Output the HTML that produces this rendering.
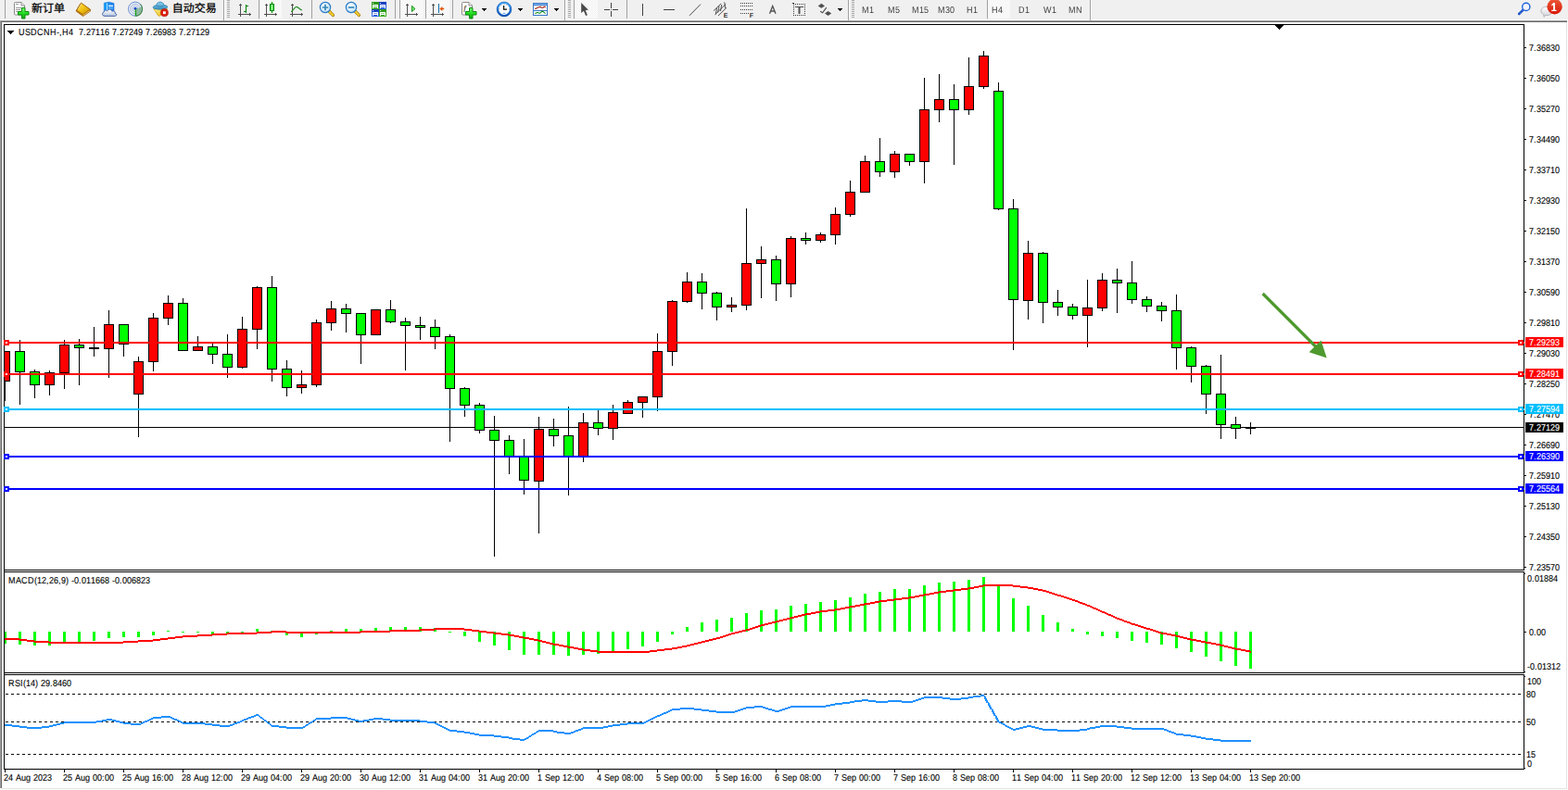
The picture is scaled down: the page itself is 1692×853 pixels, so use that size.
<!DOCTYPE html>
<html><head><meta charset="utf-8"><title>USDCNH H4</title>
<style>
html,body{margin:0;padding:0;background:#fff;overflow:hidden}
body{width:1692px;height:853px;font-family:"Liberation Sans",sans-serif}
svg{display:block;position:absolute;left:0;top:0}
text{font-family:"Liberation Sans",sans-serif;white-space:pre;text-rendering:geometricPrecision}
</style></head><body>
<svg width="1692" height="853" viewBox="0 0 1692 853" shape-rendering="crispEdges">
<rect x="0" y="0" width="1692" height="853" fill="#fff"/>
<rect x="0" y="0" width="1692" height="21" fill="#f0f0f0"/>
<rect x="0" y="21" width="1692" height="1" fill="#fbfbfb"/>
<rect x="0" y="22" width="1691" height="1" fill="#a0a0a0"/>
<rect x="1" y="23" width="1690" height="1" fill="#696969"/>
<rect x="0" y="23" width="1" height="828" fill="#a0a0a0"/>
<rect x="1" y="24" width="1" height="827" fill="#696969"/>
<rect x="1690" y="24" width="1" height="828" fill="#e3e3e3"/>
<rect x="2" y="851" width="1689" height="1" fill="#e3e3e3"/>
<defs>
<pattern id="chk" width="2" height="2" patternUnits="userSpaceOnUse"><rect width="2" height="2" fill="#f0f0f0"/><rect width="1" height="1" fill="#fff"/><rect x="1" y="1" width="1" height="1" fill="#fff"/></pattern>
<linearGradient id="gplus" x1="0" y1="0" x2="0" y2="1"><stop offset="0" stop-color="#7dff7d"/><stop offset="0.5" stop-color="#22dd22"/><stop offset="1" stop-color="#0fa80f"/></linearGradient>
<linearGradient id="gold" x1="0" y1="0" x2="1" y2="1"><stop offset="0" stop-color="#ffe860"/><stop offset="0.5" stop-color="#f0c010"/><stop offset="1" stop-color="#c88808"/></linearGradient>
<linearGradient id="bluebox" x1="0" y1="0" x2="1" y2="0"><stop offset="0" stop-color="#10a0ff"/><stop offset="1" stop-color="#2078e8"/></linearGradient>
<linearGradient id="cloud" x1="0" y1="0" x2="0" y2="1"><stop offset="0" stop-color="#ffffff"/><stop offset="1" stop-color="#b8c8e0"/></linearGradient>
<linearGradient id="hat" x1="0" y1="0" x2="0" y2="1"><stop offset="0" stop-color="#8ad0f0"/><stop offset="1" stop-color="#3890c0"/></linearGradient>
<linearGradient id="face" x1="0" y1="0" x2="1" y2="1"><stop offset="0" stop-color="#fff080"/><stop offset="1" stop-color="#e0b010"/></linearGradient>
<linearGradient id="gcandle" x1="0" y1="0" x2="1" y2="0"><stop offset="0" stop-color="#30d830"/><stop offset="0.5" stop-color="#a0ffa0"/><stop offset="1" stop-color="#30d830"/></linearGradient>
<radialGradient id="lens" cx="0.4" cy="0.35" r="0.7"><stop offset="0" stop-color="#ffffff"/><stop offset="1" stop-color="#b8e0f8"/></radialGradient>
<linearGradient id="handle" x1="0" y1="0" x2="1" y2="0"><stop offset="0" stop-color="#fff0a0"/><stop offset="1" stop-color="#d8a010"/></linearGradient>
<linearGradient id="clk" x1="0" y1="0" x2="0" y2="1"><stop offset="0" stop-color="#48a8f8"/><stop offset="1" stop-color="#0850b8"/></linearGradient>
<linearGradient id="badge" x1="0" y1="0" x2="0" y2="1"><stop offset="0" stop-color="#ec5a3a"/><stop offset="1" stop-color="#d81808"/></linearGradient>
<linearGradient id="bubble" x1="0" y1="0" x2="0" y2="1"><stop offset="0" stop-color="#ffffff"/><stop offset="1" stop-color="#d0d0dc"/></linearGradient>
<linearGradient id="tgreen" x1="0" y1="0" x2="0" y2="1"><stop offset="0" stop-color="#289018"/><stop offset="1" stop-color="#48b828"/></linearGradient>
<linearGradient id="tblue" x1="0" y1="0" x2="0" y2="1"><stop offset="0" stop-color="#1038b8"/><stop offset="1" stop-color="#3870f0"/></linearGradient>
<filter id="nf" x="0" y="0" width="100%" height="100%" filterUnits="userSpaceOnUse" color-interpolation-filters="sRGB"><feOffset dx="0" dy="0"/></filter>
</defs>
<rect x="5" y="0" width="1" height="20" fill="#a0a0a0"/>
<g shape-rendering="geometricPrecision"><path d="M15.5 3.5q0-1 1-1h6.5l3.5 3.5v9q0 1-1 1h-9q-1 0-1-1z" fill="#fff" stroke="#8a8a8a" stroke-width="1"/><path d="M23 2.5v3.5h3.5" fill="#f4f4f4" stroke="#8a8a8a" stroke-width="1"/></g>
<rect x="17" y="4" width="3" height="1" fill="#9a9a9a"/>
<rect x="17" y="8" width="6" height="1" fill="#9a9a9a"/>
<rect x="17" y="10" width="5" height="1" fill="#9a9a9a"/>
<rect x="17" y="12" width="3" height="1" fill="#9a9a9a"/>
<g shape-rendering="geometricPrecision"><path d="M23.5 8.5h3.5v4h4v3.5h-4v4h-3.5v-4h-4v-3.5h4z" fill="url(#gplus)" stroke="#0c8c0c" stroke-width="1" stroke-linejoin="round"/></g>
<text x="34 46 58" y="13.2" font-size="12" fill="#000" stroke="#000" stroke-width="0.26" style="font-family:'Liberation Sans','Noto Sans CJK SC',sans-serif" shape-rendering="geometricPrecision">新订单</text>
<g shape-rendering="geometricPrecision"><path d="M87.7 3.2L97.6 10.3L97.3 12.2L89.6 17.5L82.4 12.2L82.4 11.2Z" fill="#b87810" stroke="#a06008" stroke-width="0.8" stroke-linejoin="round"/><path d="M87.8 3.6L97 10.2L89.5 15.6L82.8 11Z" fill="url(#gold)" stroke="#b07008" stroke-width="0.7" stroke-linejoin="round"/><path d="M89.6 16.6L97 11.6" stroke="#f8e8a0" stroke-width="0.7"/><path d="M83.2 10.8L87.8 4" stroke="#fff4b0" stroke-width="0.8"/><path d="M87.2 3.4Q85.4 6 82.6 11.4" stroke="#a06008" stroke-width="0.9" fill="none"/></g>
<g shape-rendering="geometricPrecision"><path d="M112.3 3.2L117.5 2.2L123 3.5V12H112.3z" fill="url(#bluebox)" stroke="#1878e0" stroke-width="0.6"/><path d="M115.5 3.5V12" stroke="#c8ecff" stroke-width="0.9"/><rect x="117" y="5.6" width="5" height="1.6" fill="#d8f0ff"/><rect x="117" y="8.3" width="5" height="1.2" fill="#70c0ff"/><path d="M113 17.3c-3 0-3.3-3.6-0.9-4.2c-0.2-2 2.4-2.7 3.6-1.3c1-2.4 4.6-2.2 5.1 0.3c2-1 4 0.6 3.3 2.3c2.3 0.3 2.1 2.9-0.2 2.9z" fill="url(#cloud)" stroke="#4062a8" stroke-width="1"/></g>
<g shape-rendering="geometricPrecision" fill="none"><path d="M146 9.7L153.6 7.2A8 8 0 0 1 146.5 17.7Z" fill="#58a848" opacity="0.55" stroke="none"/><circle cx="146" cy="9.7" r="7.5" stroke="#3868d0" stroke-width="1" opacity="0.75"/><circle cx="146" cy="9.7" r="5.2" stroke="#5080d8" stroke-width="0.9" opacity="0.6"/><circle cx="146" cy="9.7" r="3" stroke="#6890e0" stroke-width="0.9" opacity="0.6"/><path d="M151.3 4.4A7.5 7.5 0 0 1 146.5 17.2" stroke="#408838" stroke-width="1.1" opacity="0.8"/><circle cx="146" cy="9.3" r="1.5" fill="#1848c8" stroke="none"/><path d="M146.4 10V17.4" stroke="#18a018" stroke-width="1.3"/></g>
<g shape-rendering="geometricPrecision"><path d="M165.8 9.6L180.6 9.6L172.3 17.6Q170.6 17.2 170 16Z" fill="url(#face)" stroke="#c89808" stroke-width="0.6"/><path d="M165.3 8.6c-0.6-1.8 1.6-2.8 3.3-2.9c0.6-2.6 2.6-3.6 4.3-3.6s3.4 1 4.1 3.4c2-0.1 4.3 0.9 3.6 2.6c-1.6 2.4-13.1 2.9-15.3 0.5z" fill="url(#hat)" stroke="#2878a8" stroke-width="0.7"/><path d="M168.8 6.2c2 1.2 6 1.2 8 0" stroke="#2070a0" stroke-width="0.6" fill="none"/><circle cx="177.4" cy="13.7" r="4.1" fill="#d82010" stroke="#b01808" stroke-width="0.5"/><rect x="176" y="12.3" width="2.8" height="2.8" fill="#fff"/></g>
<text x="185.8 197.8 209.8 221.8" y="13.2" font-size="12" fill="#000" stroke="#000" stroke-width="0.26" style="font-family:'Liberation Sans','Noto Sans CJK SC',sans-serif" shape-rendering="geometricPrecision">自动交易</text>
<rect x="241" y="0" width="1" height="22" fill="#a0a0a0"/>
<rect x="242" y="0" width="1" height="22" fill="#fff"/>
<rect x="245" y="0" width="3" height="1" fill="#a8a8a8"/>
<rect x="245" y="2" width="3" height="1" fill="#a8a8a8"/>
<rect x="245" y="4" width="3" height="1" fill="#a8a8a8"/>
<rect x="245" y="6" width="3" height="1" fill="#a8a8a8"/>
<rect x="245" y="8" width="3" height="1" fill="#a8a8a8"/>
<rect x="245" y="10" width="3" height="1" fill="#a8a8a8"/>
<rect x="245" y="12" width="3" height="1" fill="#a8a8a8"/>
<rect x="245" y="14" width="3" height="1" fill="#a8a8a8"/>
<rect x="245" y="16" width="3" height="1" fill="#a8a8a8"/>
<rect x="245" y="18" width="3" height="1" fill="#a8a8a8"/>
<rect x="259" y="4" width="1" height="14" fill="#505050"/>
<rect x="257" y="15" width="14" height="1" fill="#505050"/>
<rect x="258" y="5" width="3" height="1" fill="#505050"/>
<rect x="269" y="14" width="1" height="3" fill="#505050"/>
<rect x="265" y="5" width="1" height="9" fill="#008000"/><rect x="265" y="6" width="3" height="1" fill="#008000"/><rect x="263" y="12" width="3" height="1" fill="#008000"/>
<rect x="279" y="0" width="1" height="20" fill="#a0a0a0"/>
<rect x="281" y="0" width="23" height="20" fill="url(#chk)"/>
<rect x="287" y="4" width="1" height="14" fill="#505050"/>
<rect x="285" y="15" width="14" height="1" fill="#505050"/>
<rect x="286" y="5" width="3" height="1" fill="#505050"/>
<rect x="297" y="14" width="1" height="3" fill="#505050"/>
<rect x="293" y="2" width="1" height="12" fill="#008000"/><rect x="291" y="4" width="5" height="8" fill="#008800"/><rect x="292" y="5" width="3" height="6" fill="url(#gcandle)"/>
<rect x="315" y="4" width="1" height="14" fill="#505050"/>
<rect x="313" y="15" width="14" height="1" fill="#505050"/>
<rect x="314" y="5" width="3" height="1" fill="#505050"/>
<rect x="325" y="14" width="1" height="3" fill="#505050"/>
<path d="M314.2 12.8C316.5 11.5 318 7.2 320 7.4S323.5 10.5 325.8 10.9" fill="none" stroke="#289028" stroke-width="1.2" shape-rendering="geometricPrecision"/>
<rect x="336" y="0" width="1" height="20" fill="#a0a0a0"/>
<g shape-rendering="geometricPrecision"><path d="M354.8 11.8L359.4 16.4" stroke="#a87808" stroke-width="3.4" stroke-linecap="round"/><path d="M355 12L359.2 16.2" stroke="#f0d030" stroke-width="2" stroke-linecap="round"/><circle cx="351" cy="8" r="5.6" fill="url(#lens)" stroke="#2878c8" stroke-width="1.2"/><path d="M347.8 8H354.2M351 4.8V11.2" stroke="#3888b8" stroke-width="1.7"/></g>
<g shape-rendering="geometricPrecision"><path d="M382.8 11.8L387.4 16.4" stroke="#a87808" stroke-width="3.4" stroke-linecap="round"/><path d="M383 12L387.2 16.2" stroke="#f0d030" stroke-width="2" stroke-linecap="round"/><circle cx="379" cy="8" r="5.6" fill="url(#lens)" stroke="#2878c8" stroke-width="1.2"/><path d="M375.8 8H382.2" stroke="#3888b8" stroke-width="1.7"/></g>
<rect x="401" y="2" width="8" height="8" fill="url(#tgreen)"/><rect x="402" y="3" width="1" height="1" fill="#fff" opacity="0.8"/><rect x="402" y="5" width="6" height="4" fill="#fff"/><rect x="403" y="6" width="4" height="1" fill="url(#tgreen)" opacity="0.55"/><rect x="403" y="8" width="4" height="1" fill="url(#tgreen)"/>
<rect x="409" y="2" width="8" height="8" fill="url(#tblue)"/><rect x="410" y="3" width="1" height="1" fill="#fff" opacity="0.8"/><rect x="410" y="5" width="6" height="4" fill="#fff"/><rect x="411" y="6" width="4" height="1" fill="url(#tblue)" opacity="0.55"/><rect x="411" y="8" width="4" height="1" fill="url(#tblue)"/>
<rect x="401" y="10" width="8" height="8" fill="url(#tblue)"/><rect x="402" y="11" width="1" height="1" fill="#fff" opacity="0.8"/><rect x="402" y="13" width="6" height="4" fill="#fff"/><rect x="403" y="14" width="4" height="1" fill="url(#tblue)" opacity="0.55"/><rect x="403" y="16" width="4" height="1" fill="url(#tblue)"/>
<rect x="409" y="10" width="8" height="8" fill="url(#tgreen)"/><rect x="410" y="11" width="1" height="1" fill="#fff" opacity="0.8"/><rect x="410" y="13" width="6" height="4" fill="#fff"/><rect x="411" y="14" width="4" height="1" fill="url(#tgreen)" opacity="0.55"/><rect x="411" y="16" width="4" height="1" fill="url(#tgreen)"/>
<rect x="426" y="0" width="1" height="20" fill="#a0a0a0"/>
<rect x="431" y="0" width="1" height="20" fill="#a0a0a0"/>
<rect x="432" y="0" width="25" height="20" fill="url(#chk)"/>
<rect x="439" y="4" width="1" height="14" fill="#505050"/>
<rect x="437" y="15" width="14" height="1" fill="#505050"/>
<rect x="438" y="5" width="3" height="1" fill="#505050"/>
<rect x="449" y="14" width="1" height="3" fill="#505050"/>
<path d="M444.4 6.3L448 9.5L444.4 12.6Z" fill="#70e870" stroke="#108810" stroke-width="0.9" shape-rendering="geometricPrecision"/>
<rect x="459" y="0" width="1" height="20" fill="#a0a0a0"/>
<rect x="460" y="0" width="25" height="20" fill="url(#chk)"/>
<rect x="467" y="4" width="1" height="14" fill="#505050"/>
<rect x="465" y="15" width="14" height="1" fill="#505050"/>
<rect x="466" y="5" width="3" height="1" fill="#505050"/>
<rect x="477" y="14" width="1" height="3" fill="#505050"/>
<rect x="473" y="4" width="1" height="10" fill="#1870a8"/>
<path d="M474.6 9.5L477.2 7.4V8.9H479V10.1H477.2V11.6Z" fill="#e05000" stroke="#e05000" stroke-width="0.4" shape-rendering="geometricPrecision"/>
<rect x="488" y="0" width="1" height="20" fill="#a0a0a0"/>
<g shape-rendering="geometricPrecision"><path d="M498.5 3.5q0-1 1-1h6.5l3.5 3.5v9q0 1-1 1h-9q-1 0-1-1z" fill="#fff" stroke="#8a8a8a" stroke-width="1"/><path d="M506 2.5v3.5h3.5" fill="#f4f4f4" stroke="#8a8a8a" stroke-width="1"/></g>
<text x="500" y="12.5" font-size="10" font-style="italic" fill="#605030" shape-rendering="geometricPrecision">f</text>
<g shape-rendering="geometricPrecision"><path d="M506.5 8.5h3.5v4h4v3.5h-4v4h-3.5v-4h-4v-3.5h4z" fill="url(#gplus)" stroke="#0c8c0c" stroke-width="1" stroke-linejoin="round"/></g>
<rect x="520" y="9" width="5" height="1" fill="#000"/>
<rect x="521" y="10" width="3" height="1" fill="#000"/>
<rect x="522" y="11" width="1" height="1" fill="#000"/>
<g shape-rendering="geometricPrecision"><circle cx="544" cy="10" r="7" fill="#fff" stroke="url(#clk)" stroke-width="2.2"/><circle cx="544" cy="10" r="7.9" fill="none" stroke="#0848a0" stroke-width="0.5"/><path d="M543.6 6V10.2H547" stroke="#101010" stroke-width="1.3" fill="none"/><g fill="#909090"><rect x="543.5" y="4.2" width="1" height="1"/><rect x="549" y="9.5" width="1" height="1"/><rect x="538.2" y="9.5" width="1" height="1"/><rect x="546.5" y="5" width="0.8" height="0.8"/><rect x="540.3" y="5" width="0.8" height="0.8"/><rect x="540" y="13.6" width="0.8" height="0.8"/><rect x="547" y="13.6" width="0.8" height="0.8"/></g><rect x="542.5" y="13.8" width="3" height="1" fill="#50a0f0"/></g>
<rect x="559" y="9" width="5" height="1" fill="#000"/>
<rect x="560" y="10" width="3" height="1" fill="#000"/>
<rect x="561" y="11" width="1" height="1" fill="#000"/>
<rect x="575" y="3" width="16" height="14" fill="#3878c8"/><rect x="576" y="4" width="14" height="1" fill="#88b8f0"/><rect x="576" y="6" width="14" height="5" fill="#fff"/><rect x="576" y="12" width="14" height="4" fill="#fff"/>
<path d="M577 9.3H578.8L580 8H581.5L582.3 7.3H583.3L584 8.3H586L587 7.4H588.8" fill="none" stroke="#a01808" stroke-width="1.1" shape-rendering="geometricPrecision"/>
<path d="M577.2 14.3H578.5L579.5 13.5H580.5L581.5 14.3H582.8L584.5 12.4H585.8L588.6 14.6" fill="none" stroke="#109018" stroke-width="1.1" shape-rendering="geometricPrecision"/>
<rect x="598" y="9" width="5" height="1" fill="#000"/>
<rect x="599" y="10" width="3" height="1" fill="#000"/>
<rect x="600" y="11" width="1" height="1" fill="#000"/>
<rect x="609" y="0" width="1" height="22" fill="#a0a0a0"/>
<rect x="610" y="0" width="1" height="22" fill="#fff"/>
<rect x="613" y="0" width="3" height="1" fill="#a8a8a8"/>
<rect x="613" y="2" width="3" height="1" fill="#a8a8a8"/>
<rect x="613" y="4" width="3" height="1" fill="#a8a8a8"/>
<rect x="613" y="6" width="3" height="1" fill="#a8a8a8"/>
<rect x="613" y="8" width="3" height="1" fill="#a8a8a8"/>
<rect x="613" y="10" width="3" height="1" fill="#a8a8a8"/>
<rect x="613" y="12" width="3" height="1" fill="#a8a8a8"/>
<rect x="613" y="14" width="3" height="1" fill="#a8a8a8"/>
<rect x="613" y="16" width="3" height="1" fill="#a8a8a8"/>
<rect x="613" y="18" width="3" height="1" fill="#a8a8a8"/>
<rect x="619" y="0" width="1" height="20" fill="#a0a0a0"/>
<rect x="620" y="0" width="25" height="20" fill="url(#chk)"/>
<path d="M627.2 3V14L629.9 11.8L632.1 17L633.9 16.2L631.7 11.1L634.9 10.7Z" fill="#4a4a4a" shape-rendering="geometricPrecision"/>
<rect x="652" y="10" width="6" height="1" fill="#404040"/><rect x="661" y="10" width="6" height="1" fill="#404040"/><rect x="659" y="3" width="1" height="6" fill="#404040"/><rect x="659" y="12" width="1" height="6" fill="#404040"/><rect x="659" y="10" width="1" height="1" fill="#707070"/>
<rect x="676" y="0" width="1" height="20" fill="#a0a0a0"/>
<rect x="693" y="4" width="1" height="13" fill="#404040"/>
<rect x="716" y="10" width="12" height="1" fill="#404040"/>
<path d="M744 16.8L756 4.6" stroke="#404040" stroke-width="0.95" shape-rendering="geometricPrecision"/>
<g shape-rendering="geometricPrecision" stroke="#404040" stroke-width="0.9" fill="none"><path d="M770 11.7L778.2 3.8M771.5 15.8L783.3 4.4M775 17L784 8.3"/><path d="M773.5 8.6L772.3 15.5M776 6.5L774.6 13.6M778.8 5L777.5 12M781.7 2.4L782.8 9"/></g>
<text x="780.8" y="18.6" font-size="7" font-weight="bold" fill="#303030" shape-rendering="geometricPrecision">E</text>
<rect x="799" y="3" width="1" height="1" fill="#404040"/>
<rect x="801" y="3" width="1" height="1" fill="#404040"/>
<rect x="803" y="3" width="1" height="1" fill="#404040"/>
<rect x="805" y="3" width="1" height="1" fill="#404040"/>
<rect x="807" y="3" width="1" height="1" fill="#404040"/>
<rect x="809" y="3" width="1" height="1" fill="#404040"/>
<rect x="811" y="3" width="1" height="1" fill="#404040"/>
<rect x="799" y="6" width="1" height="1" fill="#404040"/>
<rect x="801" y="6" width="1" height="1" fill="#404040"/>
<rect x="803" y="6" width="1" height="1" fill="#404040"/>
<rect x="805" y="6" width="1" height="1" fill="#404040"/>
<rect x="807" y="6" width="1" height="1" fill="#404040"/>
<rect x="809" y="6" width="1" height="1" fill="#404040"/>
<rect x="811" y="6" width="1" height="1" fill="#404040"/>
<rect x="799" y="10" width="1" height="1" fill="#404040"/>
<rect x="801" y="10" width="1" height="1" fill="#404040"/>
<rect x="803" y="10" width="1" height="1" fill="#404040"/>
<rect x="805" y="10" width="1" height="1" fill="#404040"/>
<rect x="807" y="10" width="1" height="1" fill="#404040"/>
<rect x="809" y="10" width="1" height="1" fill="#404040"/>
<rect x="811" y="10" width="1" height="1" fill="#404040"/>
<rect x="799" y="14" width="1" height="1" fill="#404040"/>
<rect x="801" y="14" width="1" height="1" fill="#404040"/>
<rect x="803" y="14" width="1" height="1" fill="#404040"/>
<rect x="805" y="14" width="1" height="1" fill="#404040"/>
<rect x="807" y="14" width="1" height="1" fill="#404040"/>
<text x="808.8" y="18.6" font-size="7" font-weight="bold" fill="#303030" shape-rendering="geometricPrecision">F</text>
<path d="M830.5 14.8L833.75 6.6L837 14.8M831.8 12H835.7" fill="none" stroke="#505050" stroke-width="1.35" stroke-linejoin="miter" shape-rendering="geometricPrecision"/>
<rect x="856" y="4" width="1" height="1" fill="#404040"/><rect x="856" y="16" width="1" height="1" fill="#404040"/>
<rect x="858" y="4" width="1" height="1" fill="#404040"/><rect x="858" y="16" width="1" height="1" fill="#404040"/>
<rect x="860" y="4" width="1" height="1" fill="#404040"/><rect x="860" y="16" width="1" height="1" fill="#404040"/>
<rect x="862" y="4" width="1" height="1" fill="#404040"/><rect x="862" y="16" width="1" height="1" fill="#404040"/>
<rect x="864" y="4" width="1" height="1" fill="#404040"/><rect x="864" y="16" width="1" height="1" fill="#404040"/>
<rect x="866" y="4" width="1" height="1" fill="#404040"/><rect x="866" y="16" width="1" height="1" fill="#404040"/>
<rect x="868" y="4" width="1" height="1" fill="#404040"/><rect x="868" y="16" width="1" height="1" fill="#404040"/>
<rect x="856" y="6" width="1" height="1" fill="#404040"/><rect x="868" y="6" width="1" height="1" fill="#404040"/>
<rect x="856" y="8" width="1" height="1" fill="#404040"/><rect x="868" y="8" width="1" height="1" fill="#404040"/>
<rect x="856" y="10" width="1" height="1" fill="#404040"/><rect x="868" y="10" width="1" height="1" fill="#404040"/>
<rect x="856" y="12" width="1" height="1" fill="#404040"/><rect x="868" y="12" width="1" height="1" fill="#404040"/>
<rect x="856" y="14" width="1" height="1" fill="#404040"/><rect x="868" y="14" width="1" height="1" fill="#404040"/>
<rect x="855" y="3" width="2" height="1" fill="#404040"/>
<rect x="858" y="7" width="9" height="1" fill="#505050"/><rect x="862" y="7" width="1" height="8" fill="#505050"/><rect x="861" y="8" width="3" height="7" fill="#505050" opacity="0.5"/>
<g shape-rendering="geometricPrecision" fill="#505050"><path d="M886.3 3.7L890 6.4L886.3 8.8L882.7 6.4Z"/><path d="M893.6 11.9L897.2 14.4L893.6 17L890 14.4Z"/><path d="M885.2 12.2L887.6 13.8L891.8 8.2" fill="none" stroke="#505050" stroke-width="1.2"/></g>
<rect x="904" y="9" width="5" height="1" fill="#000"/>
<rect x="905" y="10" width="3" height="1" fill="#000"/>
<rect x="906" y="11" width="1" height="1" fill="#000"/>
<rect x="915" y="0" width="1" height="22" fill="#a0a0a0"/>
<rect x="916" y="0" width="1" height="22" fill="#fff"/>
<rect x="919" y="0" width="3" height="1" fill="#a8a8a8"/>
<rect x="919" y="2" width="3" height="1" fill="#a8a8a8"/>
<rect x="919" y="4" width="3" height="1" fill="#a8a8a8"/>
<rect x="919" y="6" width="3" height="1" fill="#a8a8a8"/>
<rect x="919" y="8" width="3" height="1" fill="#a8a8a8"/>
<rect x="919" y="10" width="3" height="1" fill="#a8a8a8"/>
<rect x="919" y="12" width="3" height="1" fill="#a8a8a8"/>
<rect x="919" y="14" width="3" height="1" fill="#a8a8a8"/>
<rect x="919" y="16" width="3" height="1" fill="#a8a8a8"/>
<rect x="919" y="18" width="3" height="1" fill="#a8a8a8"/>
<g filter="url(#nf)">
<text transform="translate(930,14) scale(0.9,1.0)" x="0.00 8.89" font-size="10.0" fill="#3c3c3c">M1</text>
<text transform="translate(958,14) scale(0.9,1.0)" x="0.00 8.89" font-size="10.0" fill="#3c3c3c">M5</text>
<text transform="translate(984,14) scale(0.9,1.0)" x="0.00 8.89 14.44" font-size="10.0" fill="#3c3c3c">M15</text>
<text transform="translate(1012,14) scale(0.9,1.0)" x="0.00 8.89 14.44" font-size="10.0" fill="#3c3c3c">M30</text>
<text transform="translate(1043,14) scale(0.9,1.0)" x="0.00 7.78" font-size="10.0" fill="#3c3c3c">H1</text>
<rect x="1065" y="0" width="1" height="20" fill="#a0a0a0"/>
<rect x="1066" y="0" width="24" height="20" fill="url(#chk)"/>
<text transform="translate(1070,14) scale(0.9,1.0)" x="0.00 7.78" font-size="10.0" fill="#3c3c3c">H4</text>
<text transform="translate(1099,14) scale(0.9,1.0)" x="0.00 7.78" font-size="10.0" fill="#3c3c3c">D1</text>
<text transform="translate(1126,14) scale(0.9,1.0)" x="0.00 10.00" font-size="10.0" fill="#3c3c3c">W1</text>
<text transform="translate(1153,14) scale(0.9,1.0)" x="0.00 8.89" font-size="10.0" fill="#3c3c3c">MN</text>
</g>
<rect x="1176" y="0" width="1" height="22" fill="#a0a0a0"/>
<rect x="1177" y="0" width="1" height="22" fill="#fff"/>
<g shape-rendering="geometricPrecision"><path d="M1643.4 10.9L1639.2 15" stroke="#1850c8" stroke-width="2.6" stroke-linecap="round"/><path d="M1642 11.2L1643.4 12.6M1640.8 12.4L1642.2 13.8M1639.6 13.6L1641 15" stroke="#88a8f0" stroke-width="0.5"/><circle cx="1646.8" cy="7.4" r="4.1" fill="#f4f4ff" stroke="#2060d8" stroke-width="1.4"/></g>
<g shape-rendering="geometricPrecision"><path d="M1668.9 7.2c3.4 0 6 2 6 4.7s-2.6 4.7-6 4.7c-0.6 0-1.2-0.1-1.7-0.2l-1 2l-0.5-2.6c-1.7-0.8-2.8-2.2-2.8-3.9c0-2.7 2.6-4.7 6-4.7z" fill="url(#bubble)" stroke="#a8a8b0" stroke-width="0.8"/><circle cx="1677.6" cy="7.2" r="8.2" fill="url(#badge)"/><path d="M1676.1 3.1h1.9v7.7h1.6v1.3h-5.4v-1.3h1.9v-5.3l-1.8 1.1v-1.6z" fill="#fff"/></g>
<rect x="5" y="461" width="1639" height="1" fill="#000"/>
<rect x="5" y="379" width="1" height="54" fill="#000"/>
<rect x="5" y="379" width="6" height="33" fill="#000"/>
<rect x="5" y="380" width="5" height="31" fill="#f00"/>
<rect x="21" y="367" width="1" height="70" fill="#000"/>
<rect x="16" y="379" width="11" height="23" fill="#000"/>
<rect x="17" y="380" width="9" height="21" fill="#0f0"/>
<rect x="37" y="399" width="1" height="31" fill="#000"/>
<rect x="32" y="401" width="11" height="15" fill="#000"/>
<rect x="33" y="402" width="9" height="13" fill="#0f0"/>
<rect x="53" y="400" width="1" height="27" fill="#000"/>
<rect x="48" y="402" width="11" height="14" fill="#000"/>
<rect x="49" y="403" width="9" height="12" fill="#f00"/>
<rect x="69" y="367" width="1" height="53" fill="#000"/>
<rect x="64" y="372" width="11" height="31" fill="#000"/>
<rect x="65" y="373" width="9" height="29" fill="#f00"/>
<rect x="85" y="366" width="1" height="50" fill="#000"/>
<rect x="80" y="372" width="11" height="4" fill="#000"/>
<rect x="81" y="373" width="9" height="2" fill="#0f0"/>
<rect x="101" y="353" width="1" height="32" fill="#000"/>
<rect x="96" y="375" width="11" height="2" fill="#000"/>
<rect x="117" y="335" width="1" height="73" fill="#000"/>
<rect x="112" y="350" width="11" height="27" fill="#000"/>
<rect x="113" y="351" width="9" height="25" fill="#f00"/>
<rect x="133" y="350" width="1" height="35" fill="#000"/>
<rect x="128" y="350" width="11" height="22" fill="#000"/>
<rect x="129" y="351" width="9" height="20" fill="#0f0"/>
<rect x="149" y="385" width="1" height="87" fill="#000"/>
<rect x="144" y="390" width="11" height="36" fill="#000"/>
<rect x="145" y="391" width="9" height="34" fill="#f00"/>
<rect x="165" y="338" width="1" height="63" fill="#000"/>
<rect x="160" y="343" width="11" height="48" fill="#000"/>
<rect x="161" y="344" width="9" height="46" fill="#f00"/>
<rect x="181" y="319" width="1" height="32" fill="#000"/>
<rect x="176" y="327" width="11" height="17" fill="#000"/>
<rect x="177" y="328" width="9" height="15" fill="#f00"/>
<rect x="197" y="322" width="1" height="57" fill="#000"/>
<rect x="192" y="327" width="11" height="52" fill="#000"/>
<rect x="193" y="328" width="9" height="50" fill="#0f0"/>
<rect x="213" y="363" width="1" height="16" fill="#000"/>
<rect x="208" y="374" width="11" height="5" fill="#000"/>
<rect x="209" y="375" width="9" height="3" fill="#f00"/>
<rect x="229" y="371" width="1" height="22" fill="#000"/>
<rect x="224" y="374" width="11" height="9" fill="#000"/>
<rect x="225" y="375" width="9" height="7" fill="#0f0"/>
<rect x="245" y="361" width="1" height="47" fill="#000"/>
<rect x="240" y="382" width="11" height="15" fill="#000"/>
<rect x="241" y="383" width="9" height="13" fill="#0f0"/>
<rect x="261" y="342" width="1" height="56" fill="#000"/>
<rect x="256" y="355" width="11" height="42" fill="#000"/>
<rect x="257" y="356" width="9" height="40" fill="#f00"/>
<rect x="277" y="309" width="1" height="68" fill="#000"/>
<rect x="272" y="310" width="11" height="46" fill="#000"/>
<rect x="273" y="311" width="9" height="44" fill="#f00"/>
<rect x="293" y="298" width="1" height="114" fill="#000"/>
<rect x="288" y="310" width="11" height="89" fill="#000"/>
<rect x="289" y="311" width="9" height="87" fill="#0f0"/>
<rect x="309" y="389" width="1" height="39" fill="#000"/>
<rect x="304" y="398" width="11" height="21" fill="#000"/>
<rect x="305" y="399" width="9" height="19" fill="#0f0"/>
<rect x="325" y="400" width="1" height="25" fill="#000"/>
<rect x="320" y="415" width="11" height="4" fill="#000"/>
<rect x="321" y="416" width="9" height="2" fill="#f00"/>
<rect x="341" y="345" width="1" height="73" fill="#000"/>
<rect x="336" y="348" width="11" height="68" fill="#000"/>
<rect x="337" y="349" width="9" height="66" fill="#f00"/>
<rect x="357" y="325" width="1" height="32" fill="#000"/>
<rect x="352" y="333" width="11" height="16" fill="#000"/>
<rect x="353" y="334" width="9" height="14" fill="#f00"/>
<rect x="373" y="328" width="1" height="31" fill="#000"/>
<rect x="368" y="333" width="11" height="6" fill="#000"/>
<rect x="369" y="334" width="9" height="4" fill="#0f0"/>
<rect x="389" y="338" width="1" height="55" fill="#000"/>
<rect x="384" y="338" width="11" height="24" fill="#000"/>
<rect x="385" y="339" width="9" height="22" fill="#0f0"/>
<rect x="405" y="334" width="1" height="28" fill="#000"/>
<rect x="400" y="334" width="11" height="28" fill="#000"/>
<rect x="401" y="335" width="9" height="26" fill="#f00"/>
<rect x="421" y="324" width="1" height="25" fill="#000"/>
<rect x="416" y="334" width="11" height="14" fill="#000"/>
<rect x="417" y="335" width="9" height="12" fill="#0f0"/>
<rect x="437" y="343" width="1" height="57" fill="#000"/>
<rect x="432" y="347" width="11" height="5" fill="#000"/>
<rect x="433" y="348" width="9" height="3" fill="#0f0"/>
<rect x="453" y="342" width="1" height="25" fill="#000"/>
<rect x="448" y="351" width="11" height="3" fill="#000"/>
<rect x="449" y="352" width="9" height="1" fill="#0f0"/>
<rect x="469" y="345" width="1" height="32" fill="#000"/>
<rect x="464" y="353" width="11" height="11" fill="#000"/>
<rect x="465" y="354" width="9" height="9" fill="#0f0"/>
<rect x="485" y="361" width="1" height="116" fill="#000"/>
<rect x="480" y="363" width="11" height="57" fill="#000"/>
<rect x="481" y="364" width="9" height="55" fill="#0f0"/>
<rect x="501" y="418" width="1" height="32" fill="#000"/>
<rect x="496" y="419" width="11" height="19" fill="#000"/>
<rect x="497" y="420" width="9" height="17" fill="#0f0"/>
<rect x="517" y="435" width="1" height="33" fill="#000"/>
<rect x="512" y="437" width="11" height="28" fill="#000"/>
<rect x="513" y="438" width="9" height="26" fill="#0f0"/>
<rect x="533" y="449" width="1" height="152" fill="#000"/>
<rect x="528" y="464" width="11" height="12" fill="#000"/>
<rect x="529" y="465" width="9" height="10" fill="#0f0"/>
<rect x="549" y="470" width="1" height="42" fill="#000"/>
<rect x="544" y="475" width="11" height="18" fill="#000"/>
<rect x="545" y="476" width="9" height="16" fill="#0f0"/>
<rect x="565" y="474" width="1" height="60" fill="#000"/>
<rect x="560" y="493" width="11" height="26" fill="#000"/>
<rect x="561" y="494" width="9" height="24" fill="#0f0"/>
<rect x="581" y="450" width="1" height="126" fill="#000"/>
<rect x="576" y="463" width="11" height="57" fill="#000"/>
<rect x="577" y="464" width="9" height="55" fill="#f00"/>
<rect x="597" y="452" width="1" height="30" fill="#000"/>
<rect x="592" y="463" width="11" height="8" fill="#000"/>
<rect x="593" y="464" width="9" height="6" fill="#0f0"/>
<rect x="613" y="439" width="1" height="96" fill="#000"/>
<rect x="608" y="470" width="11" height="23" fill="#000"/>
<rect x="609" y="471" width="9" height="21" fill="#0f0"/>
<rect x="629" y="446" width="1" height="53" fill="#000"/>
<rect x="624" y="456" width="11" height="37" fill="#000"/>
<rect x="625" y="457" width="9" height="35" fill="#f00"/>
<rect x="645" y="443" width="1" height="27" fill="#000"/>
<rect x="640" y="456" width="11" height="7" fill="#000"/>
<rect x="641" y="457" width="9" height="5" fill="#0f0"/>
<rect x="661" y="437" width="1" height="38" fill="#000"/>
<rect x="656" y="445" width="11" height="18" fill="#000"/>
<rect x="657" y="446" width="9" height="16" fill="#f00"/>
<rect x="677" y="432" width="1" height="15" fill="#000"/>
<rect x="672" y="434" width="11" height="13" fill="#000"/>
<rect x="673" y="435" width="9" height="11" fill="#f00"/>
<rect x="693" y="428" width="1" height="23" fill="#000"/>
<rect x="688" y="428" width="11" height="7" fill="#000"/>
<rect x="689" y="429" width="9" height="5" fill="#f00"/>
<rect x="709" y="360" width="1" height="84" fill="#000"/>
<rect x="704" y="379" width="11" height="50" fill="#000"/>
<rect x="705" y="380" width="9" height="48" fill="#f00"/>
<rect x="725" y="324" width="1" height="71" fill="#000"/>
<rect x="720" y="325" width="11" height="55" fill="#000"/>
<rect x="721" y="326" width="9" height="53" fill="#f00"/>
<rect x="741" y="294" width="1" height="33" fill="#000"/>
<rect x="736" y="304" width="11" height="22" fill="#000"/>
<rect x="737" y="305" width="9" height="20" fill="#f00"/>
<rect x="757" y="295" width="1" height="39" fill="#000"/>
<rect x="752" y="304" width="11" height="13" fill="#000"/>
<rect x="753" y="305" width="9" height="11" fill="#0f0"/>
<rect x="773" y="315" width="1" height="31" fill="#000"/>
<rect x="768" y="316" width="11" height="16" fill="#000"/>
<rect x="769" y="317" width="9" height="14" fill="#0f0"/>
<rect x="789" y="321" width="1" height="16" fill="#000"/>
<rect x="784" y="329" width="11" height="3" fill="#000"/>
<rect x="785" y="330" width="9" height="1" fill="#f00"/>
<rect x="805" y="225" width="1" height="110" fill="#000"/>
<rect x="800" y="284" width="11" height="46" fill="#000"/>
<rect x="801" y="285" width="9" height="44" fill="#f00"/>
<rect x="821" y="266" width="1" height="56" fill="#000"/>
<rect x="816" y="280" width="11" height="5" fill="#000"/>
<rect x="817" y="281" width="9" height="3" fill="#f00"/>
<rect x="837" y="276" width="1" height="49" fill="#000"/>
<rect x="832" y="280" width="11" height="27" fill="#000"/>
<rect x="833" y="281" width="9" height="25" fill="#0f0"/>
<rect x="853" y="255" width="1" height="66" fill="#000"/>
<rect x="848" y="257" width="11" height="50" fill="#000"/>
<rect x="849" y="258" width="9" height="48" fill="#f00"/>
<rect x="869" y="251" width="1" height="13" fill="#000"/>
<rect x="864" y="257" width="11" height="3" fill="#000"/>
<rect x="865" y="258" width="9" height="1" fill="#0f0"/>
<rect x="885" y="251" width="1" height="11" fill="#000"/>
<rect x="880" y="253" width="11" height="7" fill="#000"/>
<rect x="881" y="254" width="9" height="5" fill="#f00"/>
<rect x="901" y="224" width="1" height="40" fill="#000"/>
<rect x="896" y="231" width="11" height="23" fill="#000"/>
<rect x="897" y="232" width="9" height="21" fill="#f00"/>
<rect x="917" y="195" width="1" height="39" fill="#000"/>
<rect x="912" y="207" width="11" height="25" fill="#000"/>
<rect x="913" y="208" width="9" height="23" fill="#f00"/>
<rect x="933" y="168" width="1" height="40" fill="#000"/>
<rect x="928" y="174" width="11" height="34" fill="#000"/>
<rect x="929" y="175" width="9" height="32" fill="#f00"/>
<rect x="949" y="149" width="1" height="42" fill="#000"/>
<rect x="944" y="174" width="11" height="12" fill="#000"/>
<rect x="945" y="175" width="9" height="10" fill="#0f0"/>
<rect x="965" y="163" width="1" height="29" fill="#000"/>
<rect x="960" y="166" width="11" height="20" fill="#000"/>
<rect x="961" y="167" width="9" height="18" fill="#f00"/>
<rect x="981" y="166" width="1" height="13" fill="#000"/>
<rect x="976" y="166" width="11" height="9" fill="#000"/>
<rect x="977" y="167" width="9" height="7" fill="#0f0"/>
<rect x="997" y="84" width="1" height="114" fill="#000"/>
<rect x="992" y="118" width="11" height="57" fill="#000"/>
<rect x="993" y="119" width="9" height="55" fill="#f00"/>
<rect x="1013" y="80" width="1" height="52" fill="#000"/>
<rect x="1008" y="107" width="11" height="12" fill="#000"/>
<rect x="1009" y="108" width="9" height="10" fill="#f00"/>
<rect x="1029" y="91" width="1" height="87" fill="#000"/>
<rect x="1024" y="107" width="11" height="12" fill="#000"/>
<rect x="1025" y="108" width="9" height="10" fill="#0f0"/>
<rect x="1045" y="62" width="1" height="62" fill="#000"/>
<rect x="1040" y="93" width="11" height="26" fill="#000"/>
<rect x="1041" y="94" width="9" height="24" fill="#f00"/>
<rect x="1061" y="55" width="1" height="41" fill="#000"/>
<rect x="1056" y="60" width="11" height="34" fill="#000"/>
<rect x="1057" y="61" width="9" height="32" fill="#f00"/>
<rect x="1077" y="89" width="1" height="138" fill="#000"/>
<rect x="1072" y="98" width="11" height="128" fill="#000"/>
<rect x="1073" y="99" width="9" height="126" fill="#0f0"/>
<rect x="1093" y="215" width="1" height="163" fill="#000"/>
<rect x="1088" y="225" width="11" height="99" fill="#000"/>
<rect x="1089" y="226" width="9" height="97" fill="#0f0"/>
<rect x="1109" y="260" width="1" height="85" fill="#000"/>
<rect x="1104" y="273" width="11" height="52" fill="#000"/>
<rect x="1105" y="274" width="9" height="50" fill="#f00"/>
<rect x="1125" y="272" width="1" height="77" fill="#000"/>
<rect x="1120" y="273" width="11" height="54" fill="#000"/>
<rect x="1121" y="274" width="9" height="52" fill="#0f0"/>
<rect x="1141" y="313" width="1" height="28" fill="#000"/>
<rect x="1136" y="326" width="11" height="6" fill="#000"/>
<rect x="1137" y="327" width="9" height="4" fill="#0f0"/>
<rect x="1157" y="328" width="1" height="17" fill="#000"/>
<rect x="1152" y="331" width="11" height="10" fill="#000"/>
<rect x="1153" y="332" width="9" height="8" fill="#0f0"/>
<rect x="1173" y="302" width="1" height="73" fill="#000"/>
<rect x="1168" y="332" width="11" height="9" fill="#000"/>
<rect x="1169" y="333" width="9" height="7" fill="#f00"/>
<rect x="1189" y="295" width="1" height="41" fill="#000"/>
<rect x="1184" y="302" width="11" height="31" fill="#000"/>
<rect x="1185" y="303" width="9" height="29" fill="#f00"/>
<rect x="1205" y="290" width="1" height="48" fill="#000"/>
<rect x="1200" y="302" width="11" height="4" fill="#000"/>
<rect x="1201" y="303" width="9" height="2" fill="#0f0"/>
<rect x="1221" y="282" width="1" height="46" fill="#000"/>
<rect x="1216" y="305" width="11" height="19" fill="#000"/>
<rect x="1217" y="306" width="9" height="17" fill="#0f0"/>
<rect x="1237" y="320" width="1" height="17" fill="#000"/>
<rect x="1232" y="323" width="11" height="8" fill="#000"/>
<rect x="1233" y="324" width="9" height="6" fill="#0f0"/>
<rect x="1253" y="326" width="1" height="21" fill="#000"/>
<rect x="1248" y="330" width="11" height="6" fill="#000"/>
<rect x="1249" y="331" width="9" height="4" fill="#0f0"/>
<rect x="1269" y="318" width="1" height="81" fill="#000"/>
<rect x="1264" y="335" width="11" height="41" fill="#000"/>
<rect x="1265" y="336" width="9" height="39" fill="#0f0"/>
<rect x="1285" y="374" width="1" height="39" fill="#000"/>
<rect x="1280" y="375" width="11" height="21" fill="#000"/>
<rect x="1281" y="376" width="9" height="19" fill="#0f0"/>
<rect x="1301" y="394" width="1" height="53" fill="#000"/>
<rect x="1296" y="395" width="11" height="31" fill="#000"/>
<rect x="1297" y="396" width="9" height="29" fill="#0f0"/>
<rect x="1317" y="383" width="1" height="91" fill="#000"/>
<rect x="1312" y="425" width="11" height="34" fill="#000"/>
<rect x="1313" y="426" width="9" height="32" fill="#0f0"/>
<rect x="1333" y="450" width="1" height="24" fill="#000"/>
<rect x="1328" y="458" width="11" height="5" fill="#000"/>
<rect x="1329" y="459" width="9" height="3" fill="#0f0"/>
<rect x="1349" y="456" width="1" height="13" fill="#000"/>
<rect x="1344" y="462" width="11" height="1" fill="#000"/>
<rect x="5" y="369" width="1639" height="2" fill="#f00"/>
<rect x="4" y="367" width="6" height="6" fill="#f00"/>
<rect x="6" y="369" width="2" height="2" fill="#fff"/>
<rect x="1638" y="367" width="6" height="6" fill="#f00"/>
<rect x="1640" y="369" width="2" height="2" fill="#fff"/>
<rect x="5" y="403" width="1639" height="2" fill="#f00"/>
<rect x="4" y="401" width="6" height="6" fill="#f00"/>
<rect x="6" y="403" width="2" height="2" fill="#fff"/>
<rect x="1638" y="401" width="6" height="6" fill="#f00"/>
<rect x="1640" y="403" width="2" height="2" fill="#fff"/>
<rect x="5" y="441" width="1639" height="2" fill="#00bfff"/>
<rect x="4" y="439" width="6" height="6" fill="#00bfff"/>
<rect x="6" y="441" width="2" height="2" fill="#fff"/>
<rect x="1638" y="439" width="6" height="6" fill="#00bfff"/>
<rect x="1640" y="441" width="2" height="2" fill="#fff"/>
<rect x="5" y="492" width="1639" height="2" fill="#00f"/>
<rect x="4" y="490" width="6" height="6" fill="#00f"/>
<rect x="6" y="492" width="2" height="2" fill="#fff"/>
<rect x="1638" y="490" width="6" height="6" fill="#00f"/>
<rect x="1640" y="492" width="2" height="2" fill="#fff"/>
<rect x="5" y="527" width="1639" height="2" fill="#00f"/>
<rect x="4" y="525" width="6" height="6" fill="#00f"/>
<rect x="6" y="527" width="2" height="2" fill="#fff"/>
<rect x="1638" y="525" width="6" height="6" fill="#00f"/>
<rect x="1640" y="527" width="2" height="2" fill="#fff"/>
<g shape-rendering="geometricPrecision"><line x1="1362.6" y1="317" x2="1422" y2="376.5" stroke="#4e9a2f" stroke-width="3.2"/><polygon points="1431.7,386.5 1412.6,380.2 1425.5,367.5" fill="#4e9a2f"/></g>
<rect x="4" y="26" width="1" height="805" fill="#000"/>
<rect x="4" y="26" width="1641" height="1" fill="#000"/>
<rect x="4" y="615" width="1641" height="1" fill="#000"/>
<rect x="1644" y="26" width="1" height="590" fill="#000"/>
<rect x="4" y="617" width="1641" height="1" fill="#000"/>
<rect x="4" y="726" width="1641" height="1" fill="#000"/>
<rect x="1644" y="617" width="1" height="110" fill="#000"/>
<rect x="4" y="728" width="1641" height="1" fill="#000"/>
<rect x="4" y="830" width="1641" height="1" fill="#000"/>
<rect x="1644" y="728" width="1" height="103" fill="#000"/>
<rect x="4" y="367" width="6" height="6" fill="#f00"/>
<rect x="6" y="369" width="2" height="2" fill="#fff"/>
<rect x="1644" y="369" width="1" height="2" fill="#f00"/>
<rect x="4" y="401" width="6" height="6" fill="#f00"/>
<rect x="6" y="403" width="2" height="2" fill="#fff"/>
<rect x="1644" y="403" width="1" height="2" fill="#f00"/>
<rect x="4" y="439" width="6" height="6" fill="#00bfff"/>
<rect x="6" y="441" width="2" height="2" fill="#fff"/>
<rect x="1644" y="441" width="1" height="2" fill="#00bfff"/>
<rect x="4" y="490" width="6" height="6" fill="#00f"/>
<rect x="6" y="492" width="2" height="2" fill="#fff"/>
<rect x="1644" y="492" width="1" height="2" fill="#00f"/>
<rect x="4" y="525" width="6" height="6" fill="#00f"/>
<rect x="6" y="527" width="2" height="2" fill="#fff"/>
<rect x="1644" y="527" width="1" height="2" fill="#00f"/>
<rect x="1376" y="27" width="9" height="1" fill="#000"/>
<rect x="1377" y="28" width="7" height="1" fill="#000"/>
<rect x="1378" y="29" width="5" height="1" fill="#000"/>
<rect x="1379" y="30" width="3" height="1" fill="#000"/>
<rect x="1380" y="31" width="1" height="1" fill="#000"/>
<rect x="8" y="33" width="7" height="1" fill="#000"/>
<rect x="9" y="34" width="5" height="1" fill="#000"/>
<rect x="10" y="35" width="3" height="1" fill="#000"/>
<rect x="11" y="36" width="1" height="1" fill="#000"/>
<rect x="5" y="682" width="2" height="13" fill="#0f0"/>
<rect x="20" y="682" width="3" height="14" fill="#0f0"/>
<rect x="36" y="682" width="3" height="15" fill="#0f0"/>
<rect x="52" y="682" width="3" height="15" fill="#0f0"/>
<rect x="68" y="682" width="3" height="12" fill="#0f0"/>
<rect x="84" y="682" width="3" height="12" fill="#0f0"/>
<rect x="100" y="682" width="3" height="10" fill="#0f0"/>
<rect x="116" y="682" width="3" height="7" fill="#0f0"/>
<rect x="132" y="682" width="3" height="6" fill="#0f0"/>
<rect x="148" y="682" width="3" height="6" fill="#0f0"/>
<rect x="164" y="682" width="3" height="4" fill="#0f0"/>
<rect x="180" y="681" width="3" height="1" fill="#0f0"/>
<rect x="196" y="682" width="3" height="1" fill="#0f0"/>
<rect x="212" y="682" width="3" height="1" fill="#0f0"/>
<rect x="228" y="682" width="3" height="3" fill="#0f0"/>
<rect x="244" y="682" width="3" height="3" fill="#0f0"/>
<rect x="260" y="682" width="3" height="2" fill="#0f0"/>
<rect x="276" y="679" width="3" height="3" fill="#0f0"/>
<rect x="292" y="681" width="3" height="1" fill="#0f0"/>
<rect x="308" y="682" width="3" height="4" fill="#0f0"/>
<rect x="324" y="682" width="3" height="6" fill="#0f0"/>
<rect x="340" y="682" width="3" height="3" fill="#0f0"/>
<rect x="356" y="681" width="3" height="1" fill="#0f0"/>
<rect x="372" y="679" width="3" height="3" fill="#0f0"/>
<rect x="388" y="679" width="3" height="3" fill="#0f0"/>
<rect x="404" y="678" width="3" height="4" fill="#0f0"/>
<rect x="420" y="677" width="3" height="5" fill="#0f0"/>
<rect x="436" y="677" width="3" height="5" fill="#0f0"/>
<rect x="452" y="677" width="3" height="5" fill="#0f0"/>
<rect x="468" y="678" width="3" height="4" fill="#0f0"/>
<rect x="484" y="682" width="3" height="1" fill="#0f0"/>
<rect x="500" y="682" width="3" height="5" fill="#0f0"/>
<rect x="516" y="682" width="3" height="11" fill="#0f0"/>
<rect x="532" y="682" width="3" height="15" fill="#0f0"/>
<rect x="548" y="682" width="3" height="20" fill="#0f0"/>
<rect x="564" y="682" width="3" height="25" fill="#0f0"/>
<rect x="580" y="682" width="3" height="25" fill="#0f0"/>
<rect x="596" y="682" width="3" height="25" fill="#0f0"/>
<rect x="612" y="682" width="3" height="26" fill="#0f0"/>
<rect x="628" y="682" width="3" height="25" fill="#0f0"/>
<rect x="644" y="682" width="3" height="24" fill="#0f0"/>
<rect x="660" y="682" width="3" height="21" fill="#0f0"/>
<rect x="676" y="682" width="3" height="19" fill="#0f0"/>
<rect x="692" y="682" width="3" height="16" fill="#0f0"/>
<rect x="708" y="682" width="3" height="11" fill="#0f0"/>
<rect x="724" y="682" width="3" height="3" fill="#0f0"/>
<rect x="740" y="677" width="3" height="5" fill="#0f0"/>
<rect x="756" y="672" width="3" height="10" fill="#0f0"/>
<rect x="772" y="669" width="3" height="13" fill="#0f0"/>
<rect x="788" y="667" width="3" height="15" fill="#0f0"/>
<rect x="804" y="662" width="3" height="20" fill="#0f0"/>
<rect x="820" y="659" width="3" height="23" fill="#0f0"/>
<rect x="836" y="658" width="3" height="24" fill="#0f0"/>
<rect x="852" y="654" width="3" height="28" fill="#0f0"/>
<rect x="868" y="652" width="3" height="30" fill="#0f0"/>
<rect x="884" y="650" width="3" height="32" fill="#0f0"/>
<rect x="900" y="648" width="3" height="34" fill="#0f0"/>
<rect x="916" y="645" width="3" height="37" fill="#0f0"/>
<rect x="932" y="641" width="3" height="41" fill="#0f0"/>
<rect x="948" y="639" width="3" height="43" fill="#0f0"/>
<rect x="964" y="636" width="3" height="46" fill="#0f0"/>
<rect x="980" y="636" width="3" height="46" fill="#0f0"/>
<rect x="996" y="632" width="3" height="50" fill="#0f0"/>
<rect x="1012" y="629" width="3" height="53" fill="#0f0"/>
<rect x="1028" y="628" width="3" height="54" fill="#0f0"/>
<rect x="1044" y="626" width="3" height="56" fill="#0f0"/>
<rect x="1060" y="623" width="3" height="59" fill="#0f0"/>
<rect x="1076" y="633" width="3" height="49" fill="#0f0"/>
<rect x="1092" y="646" width="3" height="36" fill="#0f0"/>
<rect x="1108" y="654" width="3" height="28" fill="#0f0"/>
<rect x="1124" y="664" width="3" height="18" fill="#0f0"/>
<rect x="1140" y="672" width="3" height="10" fill="#0f0"/>
<rect x="1156" y="679" width="3" height="3" fill="#0f0"/>
<rect x="1172" y="682" width="3" height="3" fill="#0f0"/>
<rect x="1188" y="682" width="3" height="5" fill="#0f0"/>
<rect x="1204" y="682" width="3" height="7" fill="#0f0"/>
<rect x="1220" y="682" width="3" height="10" fill="#0f0"/>
<rect x="1236" y="682" width="3" height="12" fill="#0f0"/>
<rect x="1252" y="682" width="3" height="14" fill="#0f0"/>
<rect x="1268" y="682" width="3" height="18" fill="#0f0"/>
<rect x="1284" y="682" width="3" height="22" fill="#0f0"/>
<rect x="1300" y="682" width="3" height="27" fill="#0f0"/>
<rect x="1316" y="682" width="3" height="32" fill="#0f0"/>
<rect x="1332" y="682" width="3" height="37" fill="#0f0"/>
<rect x="1348" y="682" width="3" height="40" fill="#0f0"/>
<rect x="5" y="689" width="16" height="2" fill="#f00"/>
<rect x="21" y="690" width="8" height="2" fill="#f00"/>
<rect x="29" y="691" width="8" height="2" fill="#f00"/>
<rect x="37" y="692" width="16" height="2" fill="#f00"/>
<rect x="53" y="693" width="80" height="2" fill="#f00"/>
<rect x="133" y="692" width="16" height="2" fill="#f00"/>
<rect x="149" y="691" width="16" height="2" fill="#f00"/>
<rect x="165" y="690" width="8" height="2" fill="#f00"/>
<rect x="173" y="689" width="8" height="2" fill="#f00"/>
<rect x="181" y="688" width="8" height="2" fill="#f00"/>
<rect x="189" y="687" width="8" height="2" fill="#f00"/>
<rect x="197" y="686" width="16" height="2" fill="#f00"/>
<rect x="213" y="685" width="16" height="2" fill="#f00"/>
<rect x="229" y="684" width="16" height="2" fill="#f00"/>
<rect x="245" y="683" width="32" height="2" fill="#f00"/>
<rect x="277" y="682" width="16" height="2" fill="#f00"/>
<rect x="293" y="681" width="16" height="2" fill="#f00"/>
<rect x="309" y="682" width="80" height="2" fill="#f00"/>
<rect x="389" y="681" width="32" height="2" fill="#f00"/>
<rect x="421" y="680" width="32" height="2" fill="#f00"/>
<rect x="453" y="679" width="16" height="2" fill="#f00"/>
<rect x="469" y="678" width="32" height="2" fill="#f00"/>
<rect x="501" y="679" width="8" height="2" fill="#f00"/>
<rect x="509" y="680" width="8" height="2" fill="#f00"/>
<rect x="517" y="681" width="8" height="2" fill="#f00"/>
<rect x="525" y="682" width="8" height="2" fill="#f00"/>
<rect x="533" y="683" width="8" height="2" fill="#f00"/>
<rect x="541" y="684" width="8" height="2" fill="#f00"/>
<rect x="549" y="685" width="6" height="2" fill="#f00"/>
<rect x="555" y="686" width="5" height="2" fill="#f00"/>
<rect x="560" y="687" width="5" height="2" fill="#f00"/>
<rect x="565" y="688" width="6" height="2" fill="#f00"/>
<rect x="571" y="689" width="5" height="2" fill="#f00"/>
<rect x="576" y="690" width="5" height="2" fill="#f00"/>
<rect x="581" y="691" width="4" height="2" fill="#f00"/>
<rect x="585" y="692" width="4" height="2" fill="#f00"/>
<rect x="589" y="693" width="4" height="2" fill="#f00"/>
<rect x="593" y="694" width="4" height="2" fill="#f00"/>
<rect x="597" y="695" width="6" height="2" fill="#f00"/>
<rect x="603" y="696" width="5" height="2" fill="#f00"/>
<rect x="608" y="697" width="5" height="2" fill="#f00"/>
<rect x="613" y="698" width="6" height="2" fill="#f00"/>
<rect x="619" y="699" width="5" height="2" fill="#f00"/>
<rect x="624" y="700" width="5" height="2" fill="#f00"/>
<rect x="629" y="701" width="8" height="2" fill="#f00"/>
<rect x="637" y="702" width="8" height="2" fill="#f00"/>
<rect x="645" y="703" width="56" height="2" fill="#f00"/>
<rect x="701" y="702" width="8" height="2" fill="#f00"/>
<rect x="709" y="701" width="8" height="2" fill="#f00"/>
<rect x="717" y="700" width="8" height="2" fill="#f00"/>
<rect x="725" y="699" width="6" height="2" fill="#f00"/>
<rect x="731" y="698" width="5" height="2" fill="#f00"/>
<rect x="736" y="697" width="5" height="2" fill="#f00"/>
<rect x="741" y="696" width="4" height="2" fill="#f00"/>
<rect x="745" y="695" width="4" height="2" fill="#f00"/>
<rect x="749" y="694" width="4" height="2" fill="#f00"/>
<rect x="753" y="693" width="4" height="2" fill="#f00"/>
<rect x="757" y="692" width="4" height="2" fill="#f00"/>
<rect x="761" y="691" width="4" height="2" fill="#f00"/>
<rect x="765" y="690" width="4" height="2" fill="#f00"/>
<rect x="769" y="689" width="4" height="2" fill="#f00"/>
<rect x="773" y="688" width="4" height="2" fill="#f00"/>
<rect x="777" y="687" width="3" height="2" fill="#f00"/>
<rect x="780" y="686" width="3" height="2" fill="#f00"/>
<rect x="783" y="685" width="3" height="2" fill="#f00"/>
<rect x="786" y="684" width="3" height="2" fill="#f00"/>
<rect x="789" y="683" width="4" height="2" fill="#f00"/>
<rect x="793" y="682" width="4" height="2" fill="#f00"/>
<rect x="797" y="681" width="4" height="2" fill="#f00"/>
<rect x="801" y="680" width="4" height="2" fill="#f00"/>
<rect x="805" y="679" width="4" height="2" fill="#f00"/>
<rect x="809" y="678" width="3" height="2" fill="#f00"/>
<rect x="812" y="677" width="3" height="2" fill="#f00"/>
<rect x="815" y="676" width="3" height="2" fill="#f00"/>
<rect x="818" y="675" width="3" height="2" fill="#f00"/>
<rect x="821" y="674" width="4" height="2" fill="#f00"/>
<rect x="825" y="673" width="4" height="2" fill="#f00"/>
<rect x="829" y="672" width="4" height="2" fill="#f00"/>
<rect x="833" y="671" width="4" height="2" fill="#f00"/>
<rect x="837" y="670" width="4" height="2" fill="#f00"/>
<rect x="841" y="669" width="4" height="2" fill="#f00"/>
<rect x="845" y="668" width="4" height="2" fill="#f00"/>
<rect x="849" y="667" width="4" height="2" fill="#f00"/>
<rect x="853" y="666" width="4" height="2" fill="#f00"/>
<rect x="857" y="665" width="4" height="2" fill="#f00"/>
<rect x="861" y="664" width="4" height="2" fill="#f00"/>
<rect x="865" y="663" width="4" height="2" fill="#f00"/>
<rect x="869" y="662" width="6" height="2" fill="#f00"/>
<rect x="875" y="661" width="5" height="2" fill="#f00"/>
<rect x="880" y="660" width="5" height="2" fill="#f00"/>
<rect x="885" y="659" width="8" height="2" fill="#f00"/>
<rect x="893" y="658" width="8" height="2" fill="#f00"/>
<rect x="901" y="657" width="6" height="2" fill="#f00"/>
<rect x="907" y="656" width="5" height="2" fill="#f00"/>
<rect x="912" y="655" width="5" height="2" fill="#f00"/>
<rect x="917" y="654" width="6" height="2" fill="#f00"/>
<rect x="923" y="653" width="5" height="2" fill="#f00"/>
<rect x="928" y="652" width="5" height="2" fill="#f00"/>
<rect x="933" y="651" width="6" height="2" fill="#f00"/>
<rect x="939" y="650" width="5" height="2" fill="#f00"/>
<rect x="944" y="649" width="5" height="2" fill="#f00"/>
<rect x="949" y="648" width="8" height="2" fill="#f00"/>
<rect x="957" y="647" width="8" height="2" fill="#f00"/>
<rect x="965" y="646" width="8" height="2" fill="#f00"/>
<rect x="973" y="645" width="8" height="2" fill="#f00"/>
<rect x="981" y="644" width="6" height="2" fill="#f00"/>
<rect x="987" y="643" width="5" height="2" fill="#f00"/>
<rect x="992" y="642" width="5" height="2" fill="#f00"/>
<rect x="997" y="641" width="6" height="2" fill="#f00"/>
<rect x="1003" y="640" width="5" height="2" fill="#f00"/>
<rect x="1008" y="639" width="5" height="2" fill="#f00"/>
<rect x="1013" y="638" width="8" height="2" fill="#f00"/>
<rect x="1021" y="637" width="8" height="2" fill="#f00"/>
<rect x="1029" y="636" width="8" height="2" fill="#f00"/>
<rect x="1037" y="635" width="8" height="2" fill="#f00"/>
<rect x="1045" y="634" width="6" height="2" fill="#f00"/>
<rect x="1051" y="633" width="5" height="2" fill="#f00"/>
<rect x="1056" y="632" width="5" height="2" fill="#f00"/>
<rect x="1061" y="631" width="32" height="2" fill="#f00"/>
<rect x="1093" y="632" width="8" height="2" fill="#f00"/>
<rect x="1101" y="633" width="8" height="2" fill="#f00"/>
<rect x="1109" y="634" width="6" height="2" fill="#f00"/>
<rect x="1115" y="635" width="5" height="2" fill="#f00"/>
<rect x="1120" y="636" width="5" height="2" fill="#f00"/>
<rect x="1125" y="637" width="4" height="2" fill="#f00"/>
<rect x="1129" y="638" width="3" height="2" fill="#f00"/>
<rect x="1132" y="639" width="3" height="2" fill="#f00"/>
<rect x="1135" y="640" width="3" height="2" fill="#f00"/>
<rect x="1138" y="641" width="3" height="2" fill="#f00"/>
<rect x="1141" y="642" width="4" height="2" fill="#f00"/>
<rect x="1145" y="643" width="3" height="2" fill="#f00"/>
<rect x="1148" y="644" width="3" height="2" fill="#f00"/>
<rect x="1151" y="645" width="3" height="2" fill="#f00"/>
<rect x="1154" y="646" width="3" height="2" fill="#f00"/>
<rect x="1157" y="647" width="3" height="2" fill="#f00"/>
<rect x="1160" y="648" width="3" height="2" fill="#f00"/>
<rect x="1163" y="649" width="2" height="2" fill="#f00"/>
<rect x="1165" y="650" width="3" height="2" fill="#f00"/>
<rect x="1168" y="651" width="3" height="2" fill="#f00"/>
<rect x="1171" y="652" width="2" height="2" fill="#f00"/>
<rect x="1173" y="653" width="3" height="2" fill="#f00"/>
<rect x="1176" y="654" width="2" height="2" fill="#f00"/>
<rect x="1178" y="655" width="2" height="2" fill="#f00"/>
<rect x="1180" y="656" width="3" height="2" fill="#f00"/>
<rect x="1183" y="657" width="2" height="2" fill="#f00"/>
<rect x="1185" y="658" width="2" height="2" fill="#f00"/>
<rect x="1187" y="659" width="2" height="2" fill="#f00"/>
<rect x="1189" y="660" width="3" height="2" fill="#f00"/>
<rect x="1192" y="661" width="2" height="2" fill="#f00"/>
<rect x="1194" y="662" width="2" height="2" fill="#f00"/>
<rect x="1196" y="663" width="3" height="2" fill="#f00"/>
<rect x="1199" y="664" width="2" height="2" fill="#f00"/>
<rect x="1201" y="665" width="2" height="2" fill="#f00"/>
<rect x="1203" y="666" width="2" height="2" fill="#f00"/>
<rect x="1205" y="667" width="3" height="2" fill="#f00"/>
<rect x="1208" y="668" width="3" height="2" fill="#f00"/>
<rect x="1211" y="669" width="2" height="2" fill="#f00"/>
<rect x="1213" y="670" width="3" height="2" fill="#f00"/>
<rect x="1216" y="671" width="3" height="2" fill="#f00"/>
<rect x="1219" y="672" width="2" height="2" fill="#f00"/>
<rect x="1221" y="673" width="4" height="2" fill="#f00"/>
<rect x="1225" y="674" width="3" height="2" fill="#f00"/>
<rect x="1228" y="675" width="3" height="2" fill="#f00"/>
<rect x="1231" y="676" width="3" height="2" fill="#f00"/>
<rect x="1234" y="677" width="3" height="2" fill="#f00"/>
<rect x="1237" y="678" width="4" height="2" fill="#f00"/>
<rect x="1241" y="679" width="3" height="2" fill="#f00"/>
<rect x="1244" y="680" width="3" height="2" fill="#f00"/>
<rect x="1247" y="681" width="3" height="2" fill="#f00"/>
<rect x="1250" y="682" width="3" height="2" fill="#f00"/>
<rect x="1253" y="683" width="6" height="2" fill="#f00"/>
<rect x="1259" y="684" width="5" height="2" fill="#f00"/>
<rect x="1264" y="685" width="5" height="2" fill="#f00"/>
<rect x="1269" y="686" width="4" height="2" fill="#f00"/>
<rect x="1273" y="687" width="4" height="2" fill="#f00"/>
<rect x="1277" y="688" width="4" height="2" fill="#f00"/>
<rect x="1281" y="689" width="4" height="2" fill="#f00"/>
<rect x="1285" y="690" width="6" height="2" fill="#f00"/>
<rect x="1291" y="691" width="5" height="2" fill="#f00"/>
<rect x="1296" y="692" width="5" height="2" fill="#f00"/>
<rect x="1301" y="693" width="6" height="2" fill="#f00"/>
<rect x="1307" y="694" width="5" height="2" fill="#f00"/>
<rect x="1312" y="695" width="5" height="2" fill="#f00"/>
<rect x="1317" y="696" width="4" height="2" fill="#f00"/>
<rect x="1321" y="697" width="4" height="2" fill="#f00"/>
<rect x="1325" y="698" width="4" height="2" fill="#f00"/>
<rect x="1329" y="699" width="4" height="2" fill="#f00"/>
<rect x="1333" y="700" width="6" height="2" fill="#f00"/>
<rect x="1339" y="701" width="5" height="2" fill="#f00"/>
<rect x="1344" y="702" width="5" height="2" fill="#f00"/>
<rect x="1349" y="703" width="1" height="2" fill="#f00"/>
<path d="M6 749.5H1644" stroke="#000" stroke-width="1" stroke-dasharray="3 3" fill="none"/>
<path d="M6 779.5H1644" stroke="#000" stroke-width="1" stroke-dasharray="3 3" fill="none"/>
<path d="M6 814.5H1644" stroke="#000" stroke-width="1" stroke-dasharray="3 3" fill="none"/>
<rect x="5" y="782" width="8" height="2" fill="#1e90ff"/>
<rect x="13" y="783" width="8" height="2" fill="#1e90ff"/>
<rect x="21" y="784" width="8" height="2" fill="#1e90ff"/>
<rect x="29" y="785" width="16" height="2" fill="#1e90ff"/>
<rect x="45" y="784" width="8" height="2" fill="#1e90ff"/>
<rect x="53" y="783" width="4" height="2" fill="#1e90ff"/>
<rect x="57" y="782" width="4" height="2" fill="#1e90ff"/>
<rect x="61" y="781" width="4" height="2" fill="#1e90ff"/>
<rect x="65" y="780" width="4" height="2" fill="#1e90ff"/>
<rect x="69" y="779" width="35" height="2" fill="#1e90ff"/>
<rect x="104" y="778" width="6" height="2" fill="#1e90ff"/>
<rect x="110" y="777" width="5" height="2" fill="#1e90ff"/>
<rect x="115" y="776" width="6" height="2" fill="#1e90ff"/>
<rect x="121" y="777" width="4" height="2" fill="#1e90ff"/>
<rect x="125" y="778" width="4" height="2" fill="#1e90ff"/>
<rect x="129" y="779" width="4" height="2" fill="#1e90ff"/>
<rect x="133" y="780" width="8" height="2" fill="#1e90ff"/>
<rect x="141" y="781" width="11" height="2" fill="#1e90ff"/>
<rect x="152" y="780" width="2" height="2" fill="#1e90ff"/>
<rect x="154" y="779" width="2" height="2" fill="#1e90ff"/>
<rect x="156" y="778" width="3" height="2" fill="#1e90ff"/>
<rect x="159" y="777" width="2" height="2" fill="#1e90ff"/>
<rect x="161" y="776" width="2" height="2" fill="#1e90ff"/>
<rect x="163" y="775" width="2" height="2" fill="#1e90ff"/>
<rect x="165" y="774" width="9" height="2" fill="#1e90ff"/>
<rect x="174" y="773" width="10" height="2" fill="#1e90ff"/>
<rect x="184" y="774" width="2" height="2" fill="#1e90ff"/>
<rect x="186" y="775" width="2" height="2" fill="#1e90ff"/>
<rect x="188" y="776" width="3" height="2" fill="#1e90ff"/>
<rect x="191" y="777" width="2" height="2" fill="#1e90ff"/>
<rect x="193" y="778" width="2" height="2" fill="#1e90ff"/>
<rect x="195" y="779" width="2" height="2" fill="#1e90ff"/>
<rect x="197" y="780" width="24" height="2" fill="#1e90ff"/>
<rect x="221" y="781" width="8" height="2" fill="#1e90ff"/>
<rect x="229" y="782" width="8" height="2" fill="#1e90ff"/>
<rect x="237" y="783" width="11" height="2" fill="#1e90ff"/>
<rect x="248" y="782" width="3" height="2" fill="#1e90ff"/>
<rect x="251" y="781" width="2" height="2" fill="#1e90ff"/>
<rect x="253" y="780" width="3" height="2" fill="#1e90ff"/>
<rect x="256" y="779" width="3" height="2" fill="#1e90ff"/>
<rect x="259" y="778" width="2" height="2" fill="#1e90ff"/>
<rect x="261" y="777" width="2" height="2" fill="#1e90ff"/>
<rect x="263" y="776" width="3" height="2" fill="#1e90ff"/>
<rect x="266" y="775" width="2" height="2" fill="#1e90ff"/>
<rect x="268" y="774" width="3" height="2" fill="#1e90ff"/>
<rect x="271" y="773" width="3" height="2" fill="#1e90ff"/>
<rect x="274" y="772" width="2" height="2" fill="#1e90ff"/>
<rect x="276" y="771" width="3" height="2" fill="#1e90ff"/>
<rect x="279" y="772" width="1" height="2" fill="#1e90ff"/>
<rect x="280" y="773" width="1" height="2" fill="#1e90ff"/>
<rect x="281" y="774" width="2" height="2" fill="#1e90ff"/>
<rect x="283" y="775" width="1" height="2" fill="#1e90ff"/>
<rect x="284" y="776" width="1" height="2" fill="#1e90ff"/>
<rect x="285" y="777" width="2" height="2" fill="#1e90ff"/>
<rect x="287" y="778" width="1" height="2" fill="#1e90ff"/>
<rect x="288" y="779" width="1" height="2" fill="#1e90ff"/>
<rect x="289" y="780" width="2" height="2" fill="#1e90ff"/>
<rect x="291" y="781" width="1" height="2" fill="#1e90ff"/>
<rect x="292" y="782" width="1" height="2" fill="#1e90ff"/>
<rect x="293" y="783" width="8" height="2" fill="#1e90ff"/>
<rect x="301" y="784" width="8" height="2" fill="#1e90ff"/>
<rect x="309" y="785" width="18" height="2" fill="#1e90ff"/>
<rect x="327" y="784" width="2" height="2" fill="#1e90ff"/>
<rect x="329" y="783" width="1" height="2" fill="#1e90ff"/>
<rect x="330" y="782" width="2" height="2" fill="#1e90ff"/>
<rect x="332" y="781" width="1" height="2" fill="#1e90ff"/>
<rect x="333" y="780" width="2" height="2" fill="#1e90ff"/>
<rect x="335" y="779" width="2" height="2" fill="#1e90ff"/>
<rect x="337" y="778" width="1" height="2" fill="#1e90ff"/>
<rect x="338" y="777" width="2" height="2" fill="#1e90ff"/>
<rect x="340" y="776" width="1" height="2" fill="#1e90ff"/>
<rect x="341" y="775" width="16" height="2" fill="#1e90ff"/>
<rect x="357" y="774" width="18" height="2" fill="#1e90ff"/>
<rect x="375" y="775" width="4" height="2" fill="#1e90ff"/>
<rect x="379" y="776" width="4" height="2" fill="#1e90ff"/>
<rect x="383" y="777" width="4" height="2" fill="#1e90ff"/>
<rect x="387" y="778" width="5" height="2" fill="#1e90ff"/>
<rect x="392" y="777" width="6" height="2" fill="#1e90ff"/>
<rect x="398" y="776" width="5" height="2" fill="#1e90ff"/>
<rect x="403" y="775" width="10" height="2" fill="#1e90ff"/>
<rect x="413" y="776" width="8" height="2" fill="#1e90ff"/>
<rect x="421" y="777" width="32" height="2" fill="#1e90ff"/>
<rect x="453" y="778" width="8" height="2" fill="#1e90ff"/>
<rect x="461" y="779" width="8" height="2" fill="#1e90ff"/>
<rect x="469" y="780" width="2" height="2" fill="#1e90ff"/>
<rect x="471" y="781" width="2" height="2" fill="#1e90ff"/>
<rect x="473" y="782" width="2" height="2" fill="#1e90ff"/>
<rect x="475" y="783" width="2" height="2" fill="#1e90ff"/>
<rect x="477" y="784" width="2" height="2" fill="#1e90ff"/>
<rect x="479" y="785" width="2" height="2" fill="#1e90ff"/>
<rect x="481" y="786" width="2" height="2" fill="#1e90ff"/>
<rect x="483" y="787" width="2" height="2" fill="#1e90ff"/>
<rect x="485" y="788" width="8" height="2" fill="#1e90ff"/>
<rect x="493" y="789" width="8" height="2" fill="#1e90ff"/>
<rect x="501" y="790" width="6" height="2" fill="#1e90ff"/>
<rect x="507" y="791" width="5" height="2" fill="#1e90ff"/>
<rect x="512" y="792" width="5" height="2" fill="#1e90ff"/>
<rect x="517" y="793" width="16" height="2" fill="#1e90ff"/>
<rect x="533" y="794" width="8" height="2" fill="#1e90ff"/>
<rect x="541" y="795" width="8" height="2" fill="#1e90ff"/>
<rect x="549" y="796" width="4" height="2" fill="#1e90ff"/>
<rect x="553" y="797" width="8" height="2" fill="#1e90ff"/>
<rect x="561" y="798" width="5" height="2" fill="#1e90ff"/>
<rect x="566" y="797" width="2" height="2" fill="#1e90ff"/>
<rect x="568" y="796" width="2" height="2" fill="#1e90ff"/>
<rect x="570" y="795" width="1" height="2" fill="#1e90ff"/>
<rect x="571" y="794" width="2" height="2" fill="#1e90ff"/>
<rect x="573" y="793" width="1" height="2" fill="#1e90ff"/>
<rect x="574" y="792" width="2" height="2" fill="#1e90ff"/>
<rect x="576" y="791" width="2" height="2" fill="#1e90ff"/>
<rect x="578" y="790" width="1" height="2" fill="#1e90ff"/>
<rect x="579" y="789" width="2" height="2" fill="#1e90ff"/>
<rect x="581" y="788" width="16" height="2" fill="#1e90ff"/>
<rect x="597" y="789" width="4" height="2" fill="#1e90ff"/>
<rect x="601" y="790" width="8" height="2" fill="#1e90ff"/>
<rect x="609" y="791" width="7" height="2" fill="#1e90ff"/>
<rect x="616" y="790" width="3" height="2" fill="#1e90ff"/>
<rect x="619" y="789" width="2" height="2" fill="#1e90ff"/>
<rect x="621" y="788" width="3" height="2" fill="#1e90ff"/>
<rect x="624" y="787" width="3" height="2" fill="#1e90ff"/>
<rect x="627" y="786" width="2" height="2" fill="#1e90ff"/>
<rect x="629" y="785" width="22" height="2" fill="#1e90ff"/>
<rect x="651" y="784" width="5" height="2" fill="#1e90ff"/>
<rect x="656" y="783" width="5" height="2" fill="#1e90ff"/>
<rect x="661" y="782" width="8" height="2" fill="#1e90ff"/>
<rect x="669" y="781" width="8" height="2" fill="#1e90ff"/>
<rect x="677" y="780" width="18" height="2" fill="#1e90ff"/>
<rect x="695" y="779" width="2" height="2" fill="#1e90ff"/>
<rect x="697" y="778" width="2" height="2" fill="#1e90ff"/>
<rect x="699" y="777" width="2" height="2" fill="#1e90ff"/>
<rect x="701" y="776" width="2" height="2" fill="#1e90ff"/>
<rect x="703" y="775" width="2" height="2" fill="#1e90ff"/>
<rect x="705" y="774" width="2" height="2" fill="#1e90ff"/>
<rect x="707" y="773" width="2" height="2" fill="#1e90ff"/>
<rect x="709" y="772" width="3" height="2" fill="#1e90ff"/>
<rect x="712" y="771" width="2" height="2" fill="#1e90ff"/>
<rect x="714" y="770" width="2" height="2" fill="#1e90ff"/>
<rect x="716" y="769" width="3" height="2" fill="#1e90ff"/>
<rect x="719" y="768" width="2" height="2" fill="#1e90ff"/>
<rect x="721" y="767" width="2" height="2" fill="#1e90ff"/>
<rect x="723" y="766" width="2" height="2" fill="#1e90ff"/>
<rect x="725" y="765" width="9" height="2" fill="#1e90ff"/>
<rect x="734" y="764" width="15" height="2" fill="#1e90ff"/>
<rect x="749" y="765" width="8" height="2" fill="#1e90ff"/>
<rect x="757" y="766" width="8" height="2" fill="#1e90ff"/>
<rect x="765" y="767" width="8" height="2" fill="#1e90ff"/>
<rect x="773" y="768" width="20" height="2" fill="#1e90ff"/>
<rect x="793" y="767" width="3" height="2" fill="#1e90ff"/>
<rect x="796" y="766" width="3" height="2" fill="#1e90ff"/>
<rect x="799" y="765" width="3" height="2" fill="#1e90ff"/>
<rect x="802" y="764" width="3" height="2" fill="#1e90ff"/>
<rect x="805" y="763" width="9" height="2" fill="#1e90ff"/>
<rect x="814" y="762" width="9" height="2" fill="#1e90ff"/>
<rect x="823" y="763" width="3" height="2" fill="#1e90ff"/>
<rect x="826" y="764" width="3" height="2" fill="#1e90ff"/>
<rect x="829" y="765" width="4" height="2" fill="#1e90ff"/>
<rect x="833" y="766" width="3" height="2" fill="#1e90ff"/>
<rect x="836" y="767" width="5" height="2" fill="#1e90ff"/>
<rect x="841" y="766" width="3" height="2" fill="#1e90ff"/>
<rect x="844" y="765" width="3" height="2" fill="#1e90ff"/>
<rect x="847" y="764" width="3" height="2" fill="#1e90ff"/>
<rect x="850" y="763" width="3" height="2" fill="#1e90ff"/>
<rect x="853" y="762" width="38" height="2" fill="#1e90ff"/>
<rect x="891" y="761" width="5" height="2" fill="#1e90ff"/>
<rect x="896" y="760" width="5" height="2" fill="#1e90ff"/>
<rect x="901" y="759" width="8" height="2" fill="#1e90ff"/>
<rect x="909" y="758" width="8" height="2" fill="#1e90ff"/>
<rect x="917" y="757" width="5" height="2" fill="#1e90ff"/>
<rect x="922" y="756" width="8" height="2" fill="#1e90ff"/>
<rect x="930" y="755" width="7" height="2" fill="#1e90ff"/>
<rect x="937" y="756" width="8" height="2" fill="#1e90ff"/>
<rect x="945" y="757" width="13" height="2" fill="#1e90ff"/>
<rect x="958" y="756" width="15" height="2" fill="#1e90ff"/>
<rect x="973" y="757" width="12" height="2" fill="#1e90ff"/>
<rect x="985" y="756" width="3" height="2" fill="#1e90ff"/>
<rect x="988" y="755" width="3" height="2" fill="#1e90ff"/>
<rect x="991" y="754" width="3" height="2" fill="#1e90ff"/>
<rect x="994" y="753" width="3" height="2" fill="#1e90ff"/>
<rect x="997" y="752" width="20" height="2" fill="#1e90ff"/>
<rect x="1017" y="753" width="8" height="2" fill="#1e90ff"/>
<rect x="1025" y="754" width="12" height="2" fill="#1e90ff"/>
<rect x="1037" y="753" width="8" height="2" fill="#1e90ff"/>
<rect x="1045" y="752" width="5" height="2" fill="#1e90ff"/>
<rect x="1050" y="751" width="8" height="2" fill="#1e90ff"/>
<rect x="1058" y="750" width="4" height="2" fill="#1e90ff"/>
<rect x="1062" y="751" width="1" height="2" fill="#1e90ff"/>
<rect x="1062" y="752" width="2" height="3" fill="#1e90ff"/>
<rect x="1063" y="754" width="2" height="3" fill="#1e90ff"/>
<rect x="1064" y="756" width="2" height="3" fill="#1e90ff"/>
<rect x="1066" y="758" width="1" height="2" fill="#1e90ff"/>
<rect x="1066" y="759" width="2" height="3" fill="#1e90ff"/>
<rect x="1067" y="761" width="2" height="3" fill="#1e90ff"/>
<rect x="1068" y="763" width="2" height="3" fill="#1e90ff"/>
<rect x="1070" y="765" width="1" height="2" fill="#1e90ff"/>
<rect x="1070" y="766" width="2" height="3" fill="#1e90ff"/>
<rect x="1071" y="768" width="2" height="3" fill="#1e90ff"/>
<rect x="1072" y="770" width="2" height="3" fill="#1e90ff"/>
<rect x="1074" y="772" width="1" height="2" fill="#1e90ff"/>
<rect x="1074" y="773" width="2" height="3" fill="#1e90ff"/>
<rect x="1075" y="775" width="2" height="3" fill="#1e90ff"/>
<rect x="1076" y="777" width="2" height="3" fill="#1e90ff"/>
<rect x="1078" y="779" width="2" height="2" fill="#1e90ff"/>
<rect x="1080" y="780" width="2" height="2" fill="#1e90ff"/>
<rect x="1082" y="781" width="2" height="2" fill="#1e90ff"/>
<rect x="1084" y="782" width="1" height="2" fill="#1e90ff"/>
<rect x="1085" y="783" width="2" height="2" fill="#1e90ff"/>
<rect x="1087" y="784" width="2" height="2" fill="#1e90ff"/>
<rect x="1089" y="785" width="2" height="2" fill="#1e90ff"/>
<rect x="1091" y="786" width="2" height="2" fill="#1e90ff"/>
<rect x="1093" y="787" width="3" height="2" fill="#1e90ff"/>
<rect x="1096" y="786" width="4" height="2" fill="#1e90ff"/>
<rect x="1100" y="785" width="4" height="2" fill="#1e90ff"/>
<rect x="1104" y="784" width="4" height="2" fill="#1e90ff"/>
<rect x="1108" y="783" width="5" height="2" fill="#1e90ff"/>
<rect x="1113" y="784" width="4" height="2" fill="#1e90ff"/>
<rect x="1117" y="785" width="4" height="2" fill="#1e90ff"/>
<rect x="1121" y="786" width="4" height="2" fill="#1e90ff"/>
<rect x="1125" y="787" width="16" height="2" fill="#1e90ff"/>
<rect x="1141" y="788" width="24" height="2" fill="#1e90ff"/>
<rect x="1165" y="787" width="8" height="2" fill="#1e90ff"/>
<rect x="1173" y="786" width="3" height="2" fill="#1e90ff"/>
<rect x="1176" y="785" width="6" height="2" fill="#1e90ff"/>
<rect x="1182" y="784" width="5" height="2" fill="#1e90ff"/>
<rect x="1187" y="783" width="18" height="2" fill="#1e90ff"/>
<rect x="1205" y="784" width="8" height="2" fill="#1e90ff"/>
<rect x="1213" y="785" width="8" height="2" fill="#1e90ff"/>
<rect x="1221" y="786" width="35" height="2" fill="#1e90ff"/>
<rect x="1256" y="787" width="3" height="2" fill="#1e90ff"/>
<rect x="1259" y="788" width="2" height="2" fill="#1e90ff"/>
<rect x="1261" y="789" width="3" height="2" fill="#1e90ff"/>
<rect x="1264" y="790" width="3" height="2" fill="#1e90ff"/>
<rect x="1267" y="791" width="2" height="2" fill="#1e90ff"/>
<rect x="1269" y="792" width="8" height="2" fill="#1e90ff"/>
<rect x="1277" y="793" width="8" height="2" fill="#1e90ff"/>
<rect x="1285" y="794" width="6" height="2" fill="#1e90ff"/>
<rect x="1291" y="795" width="5" height="2" fill="#1e90ff"/>
<rect x="1296" y="796" width="5" height="2" fill="#1e90ff"/>
<rect x="1301" y="797" width="8" height="2" fill="#1e90ff"/>
<rect x="1309" y="798" width="8" height="2" fill="#1e90ff"/>
<rect x="1317" y="799" width="33" height="2" fill="#1e90ff"/>
<rect x="1645" y="51" width="2" height="1" fill="#000"/>
<text transform="translate(1650,55) scale(0.9,1.0)" x="0.00 5.56 8.89 14.44 20.00 25.56 31.11" font-size="10.0" fill="#000" stroke="#000" stroke-width="0.12">7.36830</text>
<rect x="1645" y="84" width="2" height="1" fill="#000"/>
<text transform="translate(1650,88) scale(0.9,1.0)" x="0.00 5.56 8.89 14.44 20.00 25.56 31.11" font-size="10.0" fill="#000" stroke="#000" stroke-width="0.12">7.36050</text>
<rect x="1645" y="117" width="2" height="1" fill="#000"/>
<text transform="translate(1650,121) scale(0.9,1.0)" x="0.00 5.56 8.89 14.44 20.00 25.56 31.11" font-size="10.0" fill="#000" stroke="#000" stroke-width="0.12">7.35270</text>
<rect x="1645" y="150" width="2" height="1" fill="#000"/>
<text transform="translate(1650,154) scale(0.9,1.0)" x="0.00 5.56 8.89 14.44 20.00 25.56 31.11" font-size="10.0" fill="#000" stroke="#000" stroke-width="0.12">7.34490</text>
<rect x="1645" y="183" width="2" height="1" fill="#000"/>
<text transform="translate(1650,187) scale(0.9,1.0)" x="0.00 5.56 8.89 14.44 20.00 25.56 31.11" font-size="10.0" fill="#000" stroke="#000" stroke-width="0.12">7.33710</text>
<rect x="1645" y="216" width="2" height="1" fill="#000"/>
<text transform="translate(1650,220) scale(0.9,1.0)" x="0.00 5.56 8.89 14.44 20.00 25.56 31.11" font-size="10.0" fill="#000" stroke="#000" stroke-width="0.12">7.32930</text>
<rect x="1645" y="249" width="2" height="1" fill="#000"/>
<text transform="translate(1650,253) scale(0.9,1.0)" x="0.00 5.56 8.89 14.44 20.00 25.56 31.11" font-size="10.0" fill="#000" stroke="#000" stroke-width="0.12">7.32150</text>
<rect x="1645" y="282" width="2" height="1" fill="#000"/>
<text transform="translate(1650,286) scale(0.9,1.0)" x="0.00 5.56 8.89 14.44 20.00 25.56 31.11" font-size="10.0" fill="#000" stroke="#000" stroke-width="0.12">7.31370</text>
<rect x="1645" y="315" width="2" height="1" fill="#000"/>
<text transform="translate(1650,319) scale(0.9,1.0)" x="0.00 5.56 8.89 14.44 20.00 25.56 31.11" font-size="10.0" fill="#000" stroke="#000" stroke-width="0.12">7.30590</text>
<rect x="1645" y="348" width="2" height="1" fill="#000"/>
<text transform="translate(1650,352) scale(0.9,1.0)" x="0.00 5.56 8.89 14.44 20.00 25.56 31.11" font-size="10.0" fill="#000" stroke="#000" stroke-width="0.12">7.29810</text>
<rect x="1645" y="381" width="2" height="1" fill="#000"/>
<text transform="translate(1650,385) scale(0.9,1.0)" x="0.00 5.56 8.89 14.44 20.00 25.56 31.11" font-size="10.0" fill="#000" stroke="#000" stroke-width="0.12">7.29030</text>
<rect x="1645" y="414" width="2" height="1" fill="#000"/>
<text transform="translate(1650,418) scale(0.9,1.0)" x="0.00 5.56 8.89 14.44 20.00 25.56 31.11" font-size="10.0" fill="#000" stroke="#000" stroke-width="0.12">7.28250</text>
<rect x="1645" y="447" width="2" height="1" fill="#000"/>
<text transform="translate(1650,451) scale(0.9,1.0)" x="0.00 5.56 8.89 14.44 20.00 25.56 31.11" font-size="10.0" fill="#000" stroke="#000" stroke-width="0.12">7.27470</text>
<rect x="1645" y="480" width="2" height="1" fill="#000"/>
<text transform="translate(1650,484) scale(0.9,1.0)" x="0.00 5.56 8.89 14.44 20.00 25.56 31.11" font-size="10.0" fill="#000" stroke="#000" stroke-width="0.12">7.26690</text>
<rect x="1645" y="513" width="2" height="1" fill="#000"/>
<text transform="translate(1650,517) scale(0.9,1.0)" x="0.00 5.56 8.89 14.44 20.00 25.56 31.11" font-size="10.0" fill="#000" stroke="#000" stroke-width="0.12">7.25910</text>
<rect x="1645" y="546" width="2" height="1" fill="#000"/>
<text transform="translate(1650,550) scale(0.9,1.0)" x="0.00 5.56 8.89 14.44 20.00 25.56 31.11" font-size="10.0" fill="#000" stroke="#000" stroke-width="0.12">7.25130</text>
<rect x="1645" y="579" width="2" height="1" fill="#000"/>
<text transform="translate(1650,583) scale(0.9,1.0)" x="0.00 5.56 8.89 14.44 20.00 25.56 31.11" font-size="10.0" fill="#000" stroke="#000" stroke-width="0.12">7.24350</text>
<rect x="1645" y="612" width="2" height="1" fill="#000"/>
<text transform="translate(1650,616) scale(0.9,1.0)" x="0.00 5.56 8.89 14.44 20.00 25.56 31.11" font-size="10.0" fill="#000" stroke="#000" stroke-width="0.12">7.23570</text>
<rect x="1645" y="619" width="1" height="1" fill="#000"/>
<rect x="1645" y="682" width="2" height="1" fill="#000"/>
<rect x="1645" y="725" width="1" height="1" fill="#000"/>
<text transform="translate(1648,628) scale(0.9,1.0)" x="0.00 5.56 8.89 14.44 20.00 25.56 31.11" font-size="10.0" fill="#000" stroke="#000" stroke-width="0.12">0.01884</text>
<text transform="translate(1650,686) scale(0.9,1.0)" x="0.00 5.56 8.89 14.44" font-size="10.0" fill="#000" stroke="#000" stroke-width="0.12">0.00</text>
<text transform="translate(1648,723) scale(0.9,1.0)" x="0.00 3.33 8.89 12.22 17.78 23.33 28.89 34.44" font-size="10.0" fill="#000" stroke="#000" stroke-width="0.12">-0.01312</text>
<rect x="1645" y="730" width="1" height="1" fill="#000"/>
<rect x="1645" y="829" width="1" height="1" fill="#000"/>
<text transform="translate(1648,739) scale(0.9,1.0)" x="0.00 5.56 11.11" font-size="10.0" fill="#000" stroke="#000" stroke-width="0.12">100</text>
<text transform="translate(1647,753) scale(0.9,1.0)" x="0.00 5.56" font-size="10.0" fill="#000" stroke="#000" stroke-width="0.12">80</text>
<text transform="translate(1647,783) scale(0.9,1.0)" x="0.00 5.56" font-size="10.0" fill="#000" stroke="#000" stroke-width="0.12">50</text>
<text transform="translate(1647,818) scale(0.9,1.0)" x="0.00 5.56" font-size="10.0" fill="#000" stroke="#000" stroke-width="0.12">15</text>
<text transform="translate(1648,828) scale(0.9,1.0)" x="0.00" font-size="10.0" fill="#000" stroke="#000" stroke-width="0.12">0</text>
<rect x="1646" y="364" width="41" height="11" fill="#f00"/>
<text transform="translate(1650,373) scale(0.9,1.0)" x="0.00 5.56 8.89 14.44 20.00 25.56 31.11" font-size="10.0" fill="#fff" stroke="#fff" stroke-width="0.12">7.29293</text>
<rect x="1646" y="398" width="41" height="11" fill="#f00"/>
<text transform="translate(1650,407) scale(0.9,1.0)" x="0.00 5.56 8.89 14.44 20.00 25.56 31.11" font-size="10.0" fill="#fff" stroke="#fff" stroke-width="0.12">7.28491</text>
<rect x="1646" y="436" width="41" height="11" fill="#00bfff"/>
<text transform="translate(1650,445) scale(0.9,1.0)" x="0.00 5.56 8.89 14.44 20.00 25.56 31.11" font-size="10.0" fill="#fff" stroke="#fff" stroke-width="0.12">7.27594</text>
<rect x="1646" y="487" width="41" height="11" fill="#00f"/>
<text transform="translate(1650,496) scale(0.9,1.0)" x="0.00 5.56 8.89 14.44 20.00 25.56 31.11" font-size="10.0" fill="#fff" stroke="#fff" stroke-width="0.12">7.26390</text>
<rect x="1646" y="522" width="41" height="11" fill="#00f"/>
<text transform="translate(1650,531) scale(0.9,1.0)" x="0.00 5.56 8.89 14.44 20.00 25.56 31.11" font-size="10.0" fill="#fff" stroke="#fff" stroke-width="0.12">7.25564</text>
<rect x="1646" y="456" width="41" height="11" fill="#000"/>
<text transform="translate(1650,465) scale(0.9,1.0)" x="0.00 5.56 8.89 14.44 20.00 25.56 31.11" font-size="10.0" fill="#fff" stroke="#fff" stroke-width="0.12">7.27129</text>
<rect x="5" y="831" width="1" height="3" fill="#000"/>
<text transform="translate(4,843) scale(0.9,1.0)" x="0.00 5.56 11.11 14.44 21.11 26.67 32.22 35.56 41.11 46.67 52.22" font-size="10.0" fill="#000" stroke="#000" stroke-width="0.12">24 Aug 2023</text>
<rect x="69" y="831" width="1" height="3" fill="#000"/>
<text transform="translate(68,843) scale(0.9,1.0)" x="0.00 5.56 11.11 14.44 21.11 26.67 32.22 35.56 41.11 46.67 50.00 55.56" font-size="10.0" fill="#000" stroke="#000" stroke-width="0.12">25 Aug 00:00</text>
<rect x="133" y="831" width="1" height="3" fill="#000"/>
<text transform="translate(132,843) scale(0.9,1.0)" x="0.00 5.56 11.11 14.44 21.11 26.67 32.22 35.56 41.11 46.67 50.00 55.56" font-size="10.0" fill="#000" stroke="#000" stroke-width="0.12">25 Aug 16:00</text>
<rect x="197" y="831" width="1" height="3" fill="#000"/>
<text transform="translate(196,843) scale(0.9,1.0)" x="0.00 5.56 11.11 14.44 21.11 26.67 32.22 35.56 41.11 46.67 50.00 55.56" font-size="10.0" fill="#000" stroke="#000" stroke-width="0.12">28 Aug 12:00</text>
<rect x="261" y="831" width="1" height="3" fill="#000"/>
<text transform="translate(260,843) scale(0.9,1.0)" x="0.00 5.56 11.11 14.44 21.11 26.67 32.22 35.56 41.11 46.67 50.00 55.56" font-size="10.0" fill="#000" stroke="#000" stroke-width="0.12">29 Aug 04:00</text>
<rect x="325" y="831" width="1" height="3" fill="#000"/>
<text transform="translate(324,843) scale(0.9,1.0)" x="0.00 5.56 11.11 14.44 21.11 26.67 32.22 35.56 41.11 46.67 50.00 55.56" font-size="10.0" fill="#000" stroke="#000" stroke-width="0.12">29 Aug 20:00</text>
<rect x="389" y="831" width="1" height="3" fill="#000"/>
<text transform="translate(388,843) scale(0.9,1.0)" x="0.00 5.56 11.11 14.44 21.11 26.67 32.22 35.56 41.11 46.67 50.00 55.56" font-size="10.0" fill="#000" stroke="#000" stroke-width="0.12">30 Aug 12:00</text>
<rect x="453" y="831" width="1" height="3" fill="#000"/>
<text transform="translate(452,843) scale(0.9,1.0)" x="0.00 5.56 11.11 14.44 21.11 26.67 32.22 35.56 41.11 46.67 50.00 55.56" font-size="10.0" fill="#000" stroke="#000" stroke-width="0.12">31 Aug 04:00</text>
<rect x="517" y="831" width="1" height="3" fill="#000"/>
<text transform="translate(516,843) scale(0.9,1.0)" x="0.00 5.56 11.11 14.44 21.11 26.67 32.22 35.56 41.11 46.67 50.00 55.56" font-size="10.0" fill="#000" stroke="#000" stroke-width="0.12">31 Aug 20:00</text>
<rect x="581" y="831" width="1" height="3" fill="#000"/>
<text transform="translate(580,843) scale(0.9,1.0)" x="0.00 5.56 8.89 15.56 21.11 26.67 30.00 35.56 41.11 44.44 50.00" font-size="10.0" fill="#000" stroke="#000" stroke-width="0.12">1 Sep 12:00</text>
<rect x="645" y="831" width="1" height="3" fill="#000"/>
<text transform="translate(644,843) scale(0.9,1.0)" x="0.00 5.56 8.89 15.56 21.11 26.67 30.00 35.56 41.11 44.44 50.00" font-size="10.0" fill="#000" stroke="#000" stroke-width="0.12">4 Sep 08:00</text>
<rect x="709" y="831" width="1" height="3" fill="#000"/>
<text transform="translate(708,843) scale(0.9,1.0)" x="0.00 5.56 8.89 15.56 21.11 26.67 30.00 35.56 41.11 44.44 50.00" font-size="10.0" fill="#000" stroke="#000" stroke-width="0.12">5 Sep 00:00</text>
<rect x="773" y="831" width="1" height="3" fill="#000"/>
<text transform="translate(772,843) scale(0.9,1.0)" x="0.00 5.56 8.89 15.56 21.11 26.67 30.00 35.56 41.11 44.44 50.00" font-size="10.0" fill="#000" stroke="#000" stroke-width="0.12">5 Sep 16:00</text>
<rect x="837" y="831" width="1" height="3" fill="#000"/>
<text transform="translate(836,843) scale(0.9,1.0)" x="0.00 5.56 8.89 15.56 21.11 26.67 30.00 35.56 41.11 44.44 50.00" font-size="10.0" fill="#000" stroke="#000" stroke-width="0.12">6 Sep 08:00</text>
<rect x="901" y="831" width="1" height="3" fill="#000"/>
<text transform="translate(900,843) scale(0.9,1.0)" x="0.00 5.56 8.89 15.56 21.11 26.67 30.00 35.56 41.11 44.44 50.00" font-size="10.0" fill="#000" stroke="#000" stroke-width="0.12">7 Sep 00:00</text>
<rect x="965" y="831" width="1" height="3" fill="#000"/>
<text transform="translate(964,843) scale(0.9,1.0)" x="0.00 5.56 8.89 15.56 21.11 26.67 30.00 35.56 41.11 44.44 50.00" font-size="10.0" fill="#000" stroke="#000" stroke-width="0.12">7 Sep 16:00</text>
<rect x="1029" y="831" width="1" height="3" fill="#000"/>
<text transform="translate(1028,843) scale(0.9,1.0)" x="0.00 5.56 8.89 15.56 21.11 26.67 30.00 35.56 41.11 44.44 50.00" font-size="10.0" fill="#000" stroke="#000" stroke-width="0.12">8 Sep 08:00</text>
<rect x="1093" y="831" width="1" height="3" fill="#000"/>
<text transform="translate(1092,843) scale(0.9,1.0)" x="0.00 5.56 11.11 14.44 21.11 26.67 32.22 35.56 41.11 46.67 50.00 55.56" font-size="10.0" fill="#000" stroke="#000" stroke-width="0.12">11 Sep 04:00</text>
<rect x="1157" y="831" width="1" height="3" fill="#000"/>
<text transform="translate(1156,843) scale(0.9,1.0)" x="0.00 5.56 11.11 14.44 21.11 26.67 32.22 35.56 41.11 46.67 50.00 55.56" font-size="10.0" fill="#000" stroke="#000" stroke-width="0.12">11 Sep 20:00</text>
<rect x="1221" y="831" width="1" height="3" fill="#000"/>
<text transform="translate(1220,843) scale(0.9,1.0)" x="0.00 5.56 11.11 14.44 21.11 26.67 32.22 35.56 41.11 46.67 50.00 55.56" font-size="10.0" fill="#000" stroke="#000" stroke-width="0.12">12 Sep 12:00</text>
<rect x="1285" y="831" width="1" height="3" fill="#000"/>
<text transform="translate(1284,843) scale(0.9,1.0)" x="0.00 5.56 11.11 14.44 21.11 26.67 32.22 35.56 41.11 46.67 50.00 55.56" font-size="10.0" fill="#000" stroke="#000" stroke-width="0.12">13 Sep 04:00</text>
<rect x="1349" y="831" width="1" height="3" fill="#000"/>
<text transform="translate(1348,843) scale(0.9,1.0)" x="0.00 5.56 11.11 14.44 21.11 26.67 32.22 35.56 41.11 46.67 50.00 55.56" font-size="10.0" fill="#000" stroke="#000" stroke-width="0.12">13 Sep 20:00</text>
<text transform="translate(20,38) scale(0.9,1.0)" x="0.00 7.78 14.44 22.22 30.00 37.78 45.56 48.89 52.22 60.00 65.56 68.89 72.22 77.78 81.11 86.67 92.22 97.78 103.33 108.89 112.22 117.78 121.11 126.67 132.22 137.78 143.33 148.89 152.22 157.78 161.11 166.67 172.22 177.78 183.33 188.89 192.22 197.78 201.11 206.67 212.22 217.78 223.33" font-size="10.0" fill="#000" stroke="#000" stroke-width="0.12">USDCNH-,H4  7.27116 7.27249 7.26983 7.27129</text>
<text transform="translate(9,630) scale(0.9,1.0)" x="0.00 8.89 15.56 23.33 31.11 34.44 40.00 45.56 48.89 54.44 60.00 63.33 68.89 72.22 75.56 78.89 84.44 87.78 93.33 98.89 104.44 110.00 115.56 121.11 124.44 127.78 133.33 136.67 142.22 147.78 153.33 158.89 164.44" font-size="10.0" fill="#000" stroke="#000" stroke-width="0.12">MACD(12,26,9) -0.011668 -0.006823</text>
<text transform="translate(9,741) scale(0.9,1.0)" x="0.00 7.78 14.44 17.78 21.11 26.67 32.22 35.56 38.89 44.44 50.00 53.33 58.89 64.44 70.00" font-size="10.0" fill="#000" stroke="#000" stroke-width="0.12">RSI(14) 29.8460</text>
</svg>
</body></html>
